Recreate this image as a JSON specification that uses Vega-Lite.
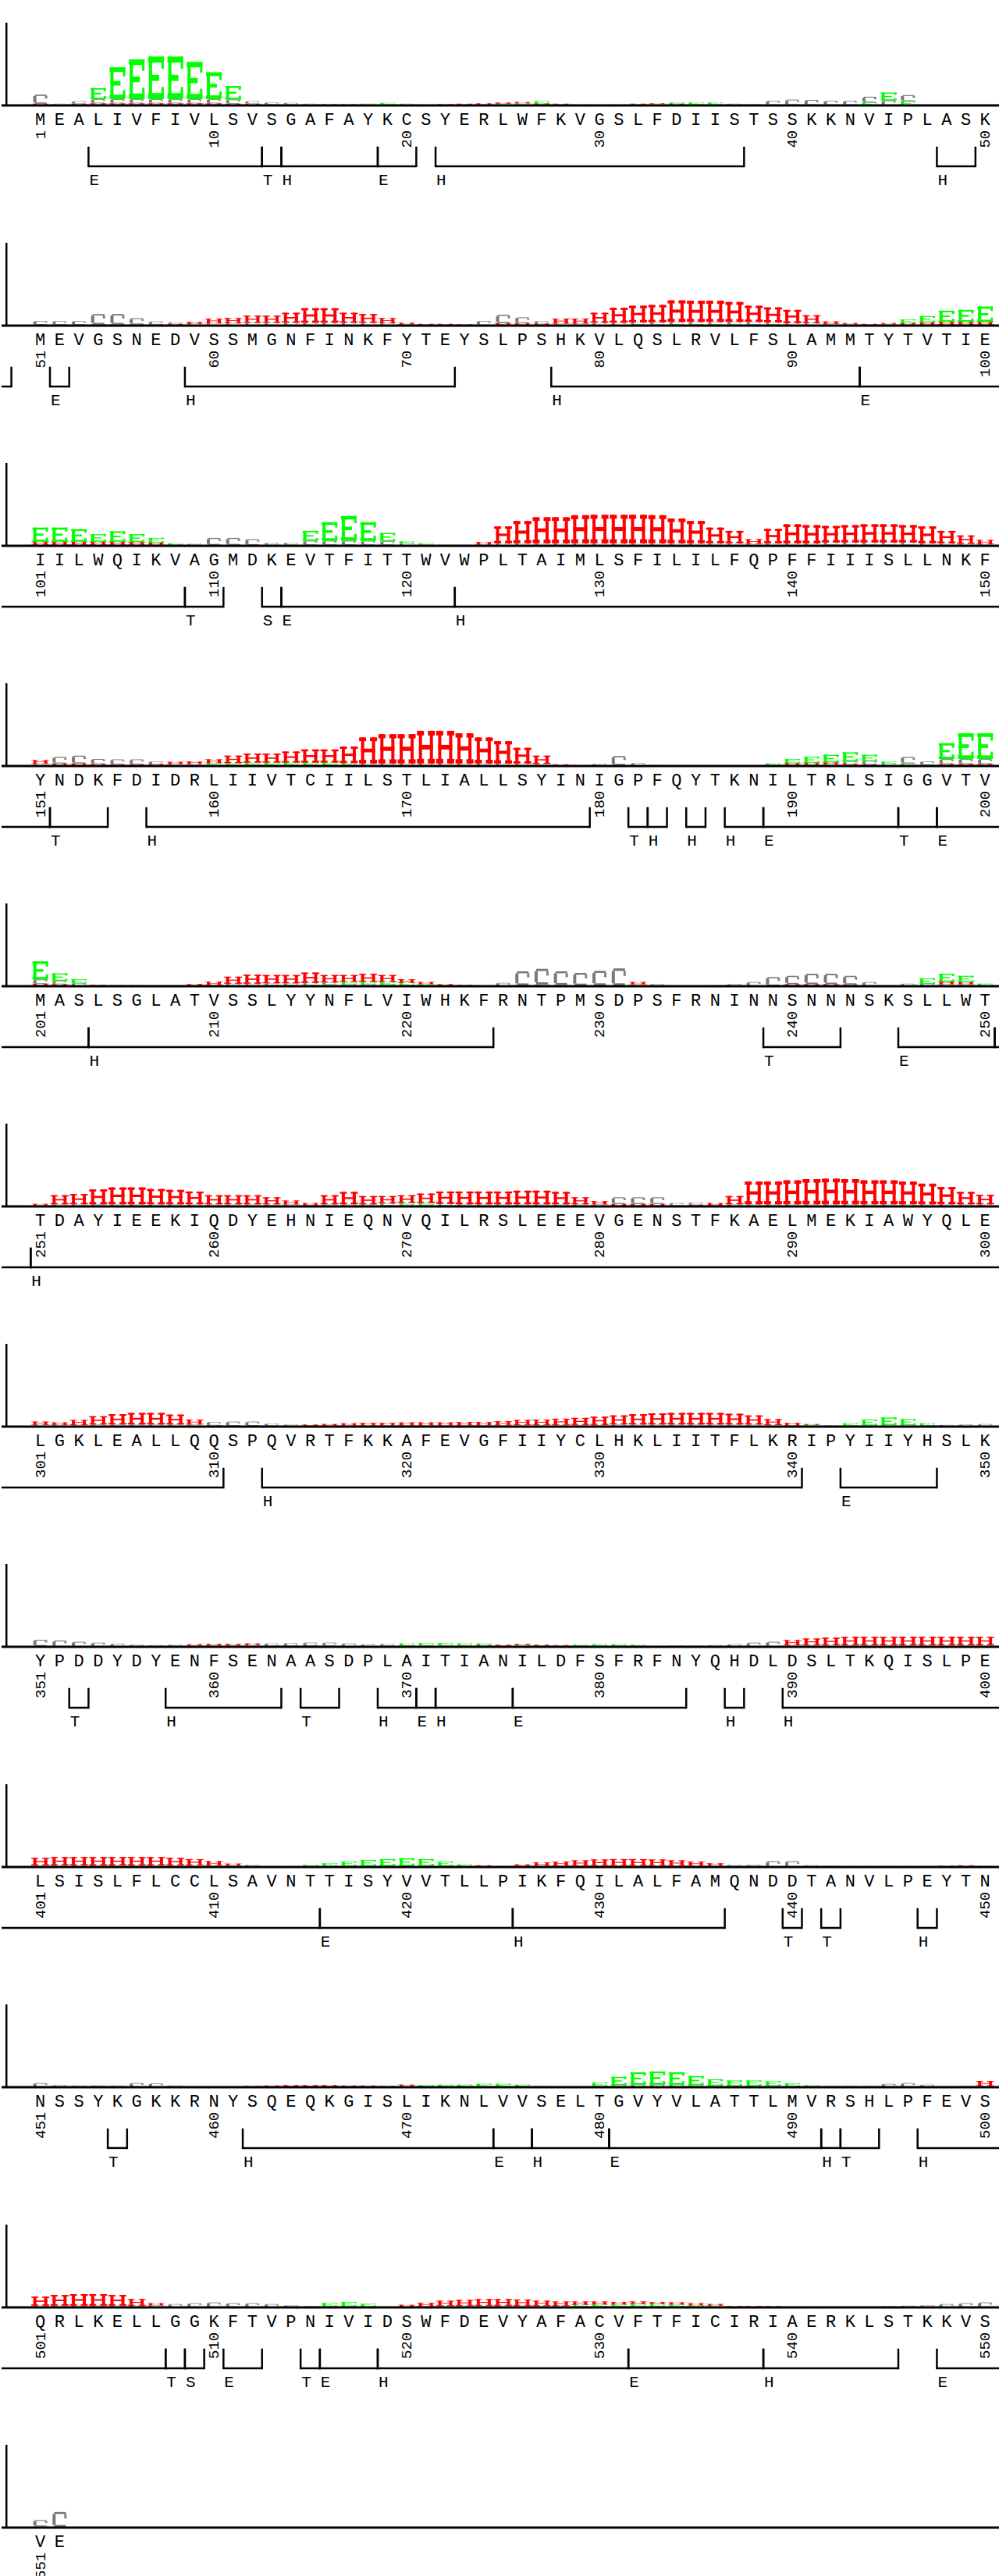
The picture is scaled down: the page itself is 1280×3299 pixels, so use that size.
{
"$schema":"https://vega.github.io/schema/vega-lite/v6.json",
"padding":0,"spacing":0,"background":"white",
"config":{"view":{"stroke":null},"font":"Liberation Mono","text":{"font":"Liberation Mono","color":"#000"},"axisY":{"domain":false,"grid":false,"tickSize":-7,"tickWidth":2.5,"tickColor":"#000","labelAlign":"left","labelBaseline":"alphabetic","labelPadding":-3,"labelFontSize":19,"labelFont":"Liberation Mono","labelColor":"#000"}},
"datasets":{
"res":[
{"p":1,"a":"M","H":0.03,"E":0.01,"C":0.22},{"p":2,"a":"E","H":0.01,"E":0.01,"C":0.02},{"p":3,"a":"A","H":0.02,"E":0.02,"C":0.06},{"p":4,"a":"L","H":0.05,"E":0.27,"C":0.1},{"p":5,"a":"I","H":0.05,"E":0.77,"C":0.1},{"p":6,"a":"V","H":0.05,"E":0.96,"C":0.1},{"p":7,"a":"F","H":0.05,"E":1.03,"C":0.1},{"p":8,"a":"I","H":0.05,"E":1.03,"C":0.1},{"p":9,"a":"V","H":0.05,"E":0.9,"C":0.1},{"p":10,"a":"L","H":0.05,"E":0.65,"C":0.1},
{"p":11,"a":"S","H":0.04,"E":0.33,"C":0.1},{"p":12,"a":"V","H":0.02,"E":0.02,"C":0.06},{"p":13,"a":"S","H":0.01,"E":0.01,"C":0.05},{"p":14,"a":"G","H":0.01,"E":0.01,"C":0.04},{"p":15,"a":"A","H":0.01,"E":0.01,"C":0.02},{"p":16,"a":"F","H":0.01,"E":0.01,"C":0.01},{"p":17,"a":"A","H":0.01,"E":0.01,"C":0.01},{"p":18,"a":"Y","H":0.01,"E":0.02,"C":0.01},{"p":19,"a":"K","H":0.01,"E":0.03,"C":0.02},{"p":20,"a":"C","H":0.01,"E":0.01,"C":0.02},
{"p":21,"a":"S","H":0.01,"E":0,"C":0.01},{"p":22,"a":"Y","H":0.02,"E":0,"C":0.01},{"p":23,"a":"E","H":0.02,"E":0.01,"C":0.01},{"p":24,"a":"R","H":0.03,"E":0.01,"C":0.01},{"p":25,"a":"L","H":0.03,"E":0.02,"C":0.02},{"p":26,"a":"W","H":0.03,"E":0.03,"C":0.02},{"p":27,"a":"F","H":0.03,"E":0.05,"C":0.02},{"p":28,"a":"K","H":0.02,"E":0.01,"C":0.01},{"p":29,"a":"V","H":0.01,"E":0,"C":0.01},{"p":30,"a":"G","H":0,"E":0,"C":0.02},
{"p":31,"a":"S","H":0.01,"E":0,"C":0.01},{"p":32,"a":"L","H":0.02,"E":0.01,"C":0.01},{"p":33,"a":"F","H":0.02,"E":0.02,"C":0.01},{"p":34,"a":"D","H":0.02,"E":0.03,"C":0.02},{"p":35,"a":"I","H":0.01,"E":0.04,"C":0.02},{"p":36,"a":"I","H":0.01,"E":0.04,"C":0.02},{"p":37,"a":"S","H":0.01,"E":0.01,"C":0.02},{"p":38,"a":"T","H":0,"E":0,"C":0.03},{"p":39,"a":"S","H":0,"E":0.01,"C":0.1},{"p":40,"a":"S","H":0,"E":0.01,"C":0.13},
{"p":41,"a":"K","H":0,"E":0.01,"C":0.12},{"p":42,"a":"K","H":0,"E":0.01,"C":0.1},{"p":43,"a":"N","H":0,"E":0.01,"C":0.1},{"p":44,"a":"V","H":0,"E":0.07,"C":0.14},{"p":45,"a":"I","H":0,"E":0.19,"C":0.12},{"p":46,"a":"P","H":0,"E":0.1,"C":0.15},{"p":47,"a":"L","H":0,"E":0,"C":0},{"p":48,"a":"A","H":0,"E":0,"C":0},{"p":49,"a":"S","H":0,"E":0,"C":0},{"p":50,"a":"K","H":0,"E":0,"C":0},
{"p":51,"a":"M","H":0.01,"E":0.01,"C":0.09},{"p":52,"a":"E","H":0.01,"E":0.01,"C":0.09},{"p":53,"a":"V","H":0.01,"E":0.01,"C":0.09},{"p":54,"a":"G","H":0.02,"E":0.01,"C":0.25},{"p":55,"a":"S","H":0.02,"E":0.01,"C":0.25},{"p":56,"a":"N","H":0.02,"E":0.01,"C":0.15},{"p":57,"a":"E","H":0.02,"E":0.01,"C":0.07},{"p":58,"a":"D","H":0.03,"E":0.01,"C":0.04},{"p":59,"a":"V","H":0.05,"E":0.01,"C":0.03},{"p":60,"a":"S","H":0.11,"E":0.01,"C":0.05},
{"p":61,"a":"S","H":0.12,"E":0.01,"C":0.05},{"p":62,"a":"M","H":0.17,"E":0.01,"C":0.06},{"p":63,"a":"G","H":0.17,"E":0.01,"C":0.06},{"p":64,"a":"N","H":0.24,"E":0.01,"C":0.06},{"p":65,"a":"F","H":0.35,"E":0.01,"C":0.06},{"p":66,"a":"I","H":0.35,"E":0.01,"C":0.06},{"p":67,"a":"N","H":0.24,"E":0.01,"C":0.06},{"p":68,"a":"K","H":0.21,"E":0.01,"C":0.06},{"p":69,"a":"F","H":0.12,"E":0.01,"C":0.05},{"p":70,"a":"Y","H":0.04,"E":0.01,"C":0.02},
{"p":71,"a":"T","H":0.03,"E":0,"C":0.01},{"p":72,"a":"E","H":0.03,"E":0,"C":0.01},{"p":73,"a":"Y","H":0.02,"E":0,"C":0.01},{"p":74,"a":"S","H":0.01,"E":0,"C":0.1},{"p":75,"a":"L","H":0.05,"E":0.01,"C":0.2},{"p":76,"a":"P","H":0.05,"E":0.01,"C":0.14},{"p":77,"a":"S","H":0.04,"E":0.01,"C":0.06},{"p":78,"a":"H","H":0.12,"E":0.01,"C":0.04},{"p":79,"a":"K","H":0.12,"E":0.01,"C":0.04},{"p":80,"a":"V","H":0.24,"E":0.01,"C":0.06},
{"p":81,"a":"L","H":0.36,"E":0.01,"C":0.06},{"p":82,"a":"Q","H":0.4,"E":0.02,"C":0.06},{"p":83,"a":"S","H":0.42,"E":0.02,"C":0.06},{"p":84,"a":"L","H":0.52,"E":0.03,"C":0.06},{"p":85,"a":"R","H":0.51,"E":0.03,"C":0.06},{"p":86,"a":"V","H":0.51,"E":0.03,"C":0.06},{"p":87,"a":"L","H":0.48,"E":0.03,"C":0.06},{"p":88,"a":"F","H":0.39,"E":0.03,"C":0.06},{"p":89,"a":"S","H":0.36,"E":0.02,"C":0.06},{"p":90,"a":"L","H":0.32,"E":0.01,"C":0.05},
{"p":91,"a":"A","H":0.19,"E":0.01,"C":0.05},{"p":92,"a":"M","H":0.06,"E":0.01,"C":0.03},{"p":93,"a":"M","H":0.03,"E":0.01,"C":0.02},{"p":94,"a":"T","H":0.02,"E":0.01,"C":0.01},{"p":95,"a":"Y","H":0.03,"E":0.02,"C":0.01},{"p":96,"a":"T","H":0.05,"E":0.09,"C":0.01},{"p":97,"a":"V","H":0.06,"E":0.15,"C":0.02},{"p":98,"a":"T","H":0.07,"E":0.27,"C":0.02},{"p":99,"a":"I","H":0.07,"E":0.29,"C":0.02},{"p":100,"a":"E","H":0.07,"E":0.37,"C":0.02},
{"p":101,"a":"I","H":0.08,"E":0.34,"C":0.02},{"p":102,"a":"I","H":0.08,"E":0.34,"C":0.02},{"p":103,"a":"L","H":0.08,"E":0.3,"C":0.02},{"p":104,"a":"W","H":0.08,"E":0.18,"C":0.02},{"p":105,"a":"Q","H":0.08,"E":0.25,"C":0.02},{"p":106,"a":"I","H":0.07,"E":0.19,"C":0.02},{"p":107,"a":"K","H":0.06,"E":0.11,"C":0.02},{"p":108,"a":"V","H":0.02,"E":0.03,"C":0.01},{"p":109,"a":"A","H":0.01,"E":0.01,"C":0.03},{"p":110,"a":"G","H":0.01,"E":0.01,"C":0.17},
{"p":111,"a":"M","H":0.01,"E":0.01,"C":0.17},{"p":112,"a":"D","H":0.01,"E":0.01,"C":0.14},{"p":113,"a":"K","H":0.01,"E":0.01,"C":0.05},{"p":114,"a":"E","H":0.01,"E":0.02,"C":0.04},{"p":115,"a":"V","H":0.02,"E":0.24,"C":0.1},{"p":116,"a":"T","H":0.02,"E":0.45,"C":0.1},{"p":117,"a":"F","H":0.02,"E":0.6,"C":0.1},{"p":118,"a":"I","H":0.02,"E":0.45,"C":0.1},{"p":119,"a":"T","H":0.02,"E":0.2,"C":0.09},{"p":120,"a":"T","H":0.01,"E":0.05,"C":0.05},
{"p":121,"a":"W","H":0.01,"E":0.03,"C":0.02},{"p":122,"a":"V","H":0.01,"E":0,"C":0.01},{"p":123,"a":"W","H":0.01,"E":0,"C":0.01},{"p":124,"a":"P","H":0.06,"E":0,"C":0.03},{"p":125,"a":"L","H":0.41,"E":0.01,"C":0.05},{"p":126,"a":"T","H":0.54,"E":0.01,"C":0.05},{"p":127,"a":"A","H":0.63,"E":0.01,"C":0.05},{"p":128,"a":"I","H":0.63,"E":0.01,"C":0.05},{"p":129,"a":"M","H":0.68,"E":0.01,"C":0.05},{"p":130,"a":"L","H":0.69,"E":0.01,"C":0.05},
{"p":131,"a":"S","H":0.69,"E":0.01,"C":0.05},{"p":132,"a":"F","H":0.69,"E":0.01,"C":0.05},{"p":133,"a":"I","H":0.68,"E":0.01,"C":0.05},{"p":134,"a":"L","H":0.6,"E":0.01,"C":0.05},{"p":135,"a":"I","H":0.54,"E":0.01,"C":0.05},{"p":136,"a":"L","H":0.38,"E":0.01,"C":0.05},{"p":137,"a":"F","H":0.3,"E":0.01,"C":0.05},{"p":138,"a":"Q","H":0.11,"E":0.01,"C":0.04},{"p":139,"a":"P","H":0.35,"E":0.01,"C":0.05},{"p":140,"a":"F","H":0.46,"E":0.01,"C":0.05},
{"p":141,"a":"F","H":0.44,"E":0.01,"C":0.05},{"p":142,"a":"I","H":0.4,"E":0.03,"C":0.05},{"p":143,"a":"I","H":0.42,"E":0.03,"C":0.05},{"p":144,"a":"I","H":0.44,"E":0.03,"C":0.05},{"p":145,"a":"S","H":0.44,"E":0.03,"C":0.05},{"p":146,"a":"L","H":0.42,"E":0.03,"C":0.05},{"p":147,"a":"L","H":0.41,"E":0.01,"C":0.05},{"p":148,"a":"N","H":0.3,"E":0.01,"C":0.05},{"p":149,"a":"K","H":0.2,"E":0.01,"C":0.04},{"p":150,"a":"F","H":0.1,"E":0.01,"C":0.03},
{"p":151,"a":"Y","H":0.08,"E":0.01,"C":0.05},{"p":152,"a":"N","H":0.05,"E":0.01,"C":0.16},{"p":153,"a":"D","H":0.05,"E":0.01,"C":0.19},{"p":154,"a":"K","H":0.04,"E":0.01,"C":0.12},{"p":155,"a":"F","H":0.03,"E":0.01,"C":0.12},{"p":156,"a":"D","H":0.03,"E":0.01,"C":0.12},{"p":157,"a":"I","H":0.04,"E":0.01,"C":0.06},{"p":158,"a":"D","H":0.05,"E":0.01,"C":0.04},{"p":159,"a":"R","H":0.06,"E":0.02,"C":0.03},{"p":160,"a":"L","H":0.09,"E":0.05,"C":0.02},
{"p":161,"a":"I","H":0.18,"E":0.05,"C":0.02},{"p":162,"a":"I","H":0.22,"E":0.06,"C":0.02},{"p":163,"a":"V","H":0.22,"E":0.06,"C":0.02},{"p":164,"a":"T","H":0.27,"E":0.06,"C":0.02},{"p":165,"a":"C","H":0.32,"E":0.06,"C":0.02},{"p":166,"a":"I","H":0.32,"E":0.06,"C":0.02},{"p":167,"a":"I","H":0.4,"E":0.04,"C":0.03},{"p":168,"a":"L","H":0.63,"E":0.01,"C":0.05},{"p":169,"a":"S","H":0.71,"E":0.01,"C":0.05},{"p":170,"a":"T","H":0.71,"E":0.01,"C":0.05},
{"p":171,"a":"L","H":0.79,"E":0.01,"C":0.05},{"p":172,"a":"I","H":0.79,"E":0.01,"C":0.05},{"p":173,"a":"A","H":0.73,"E":0.01,"C":0.05},{"p":174,"a":"L","H":0.63,"E":0.01,"C":0.05},{"p":175,"a":"L","H":0.54,"E":0.01,"C":0.05},{"p":176,"a":"S","H":0.38,"E":0.01,"C":0.05},{"p":177,"a":"Y","H":0.2,"E":0.01,"C":0.04},{"p":178,"a":"I","H":0.03,"E":0,"C":0.01},{"p":179,"a":"N","H":0.01,"E":0,"C":0.01},{"p":180,"a":"I","H":0.01,"E":0,"C":0.04},
{"p":181,"a":"G","H":0.01,"E":0.01,"C":0.22},{"p":182,"a":"P","H":0.01,"E":0,"C":0.06},{"p":183,"a":"F","H":0.01,"E":0,"C":0.01},{"p":184,"a":"Q","H":0,"E":0,"C":0.01},{"p":185,"a":"Y","H":0,"E":0,"C":0.01},{"p":186,"a":"T","H":0,"E":0,"C":0.01},{"p":187,"a":"K","H":0,"E":0,"C":0.01},{"p":188,"a":"N","H":0,"E":0.01,"C":0.01},{"p":189,"a":"I","H":0.01,"E":0.04,"C":0.01},{"p":190,"a":"L","H":0.05,"E":0.1,"C":0.02},
{"p":191,"a":"T","H":0.05,"E":0.14,"C":0.03},{"p":192,"a":"R","H":0.05,"E":0.18,"C":0.04},{"p":193,"a":"L","H":0.05,"E":0.22,"C":0.06},{"p":194,"a":"S","H":0.04,"E":0.15,"C":0.08},{"p":195,"a":"I","H":0.01,"E":0.05,"C":0.05},{"p":196,"a":"G","H":0.01,"E":0.05,"C":0.16},{"p":197,"a":"G","H":0.01,"E":0.02,"C":0.08},{"p":198,"a":"V","H":0.05,"E":0.38,"C":0.12},{"p":199,"a":"T","H":0.05,"E":0.62,"C":0.12},{"p":200,"a":"V","H":0.05,"E":0.62,"C":0.12},
{"p":201,"a":"M","H":0.06,"E":0.44,"C":0.1},{"p":202,"a":"A","H":0.05,"E":0.18,"C":0.08},{"p":203,"a":"S","H":0.01,"E":0.1,"C":0.06},{"p":204,"a":"L","H":0.01,"E":0.01,"C":0.01},{"p":205,"a":"S","H":0,"E":0,"C":0.03},{"p":206,"a":"G","H":0,"E":0,"C":0.03},{"p":207,"a":"L","H":0.01,"E":0,"C":0.01},{"p":208,"a":"A","H":0.01,"E":0,"C":0.01},{"p":209,"a":"T","H":0.04,"E":0,"C":0.01},{"p":210,"a":"V","H":0.08,"E":0,"C":0.03},
{"p":211,"a":"S","H":0.17,"E":0.01,"C":0.05},{"p":212,"a":"S","H":0.22,"E":0.01,"C":0.05},{"p":213,"a":"L","H":0.2,"E":0.02,"C":0.05},{"p":214,"a":"Y","H":0.2,"E":0.02,"C":0.05},{"p":215,"a":"Y","H":0.25,"E":0.03,"C":0.05},{"p":216,"a":"N","H":0.18,"E":0.04,"C":0.05},{"p":217,"a":"F","H":0.17,"E":0.05,"C":0.05},{"p":218,"a":"L","H":0.2,"E":0.05,"C":0.05},{"p":219,"a":"V","H":0.17,"E":0.06,"C":0.04},{"p":220,"a":"I","H":0.09,"E":0.05,"C":0.03},
{"p":221,"a":"W","H":0.05,"E":0.03,"C":0.02},{"p":222,"a":"H","H":0.03,"E":0.01,"C":0.01},{"p":223,"a":"K","H":0.02,"E":0.01,"C":0},{"p":224,"a":"F","H":0.01,"E":0,"C":0},{"p":225,"a":"R","H":0,"E":0,"C":0.08},{"p":226,"a":"N","H":0,"E":0.02,"C":0.34},{"p":227,"a":"T","H":0,"E":0.04,"C":0.38},{"p":228,"a":"P","H":0,"E":0.03,"C":0.33},{"p":229,"a":"M","H":0,"E":0.02,"C":0.3},{"p":230,"a":"S","H":0,"E":0.02,"C":0.35},
{"p":231,"a":"D","H":0,"E":0.01,"C":0.42},{"p":232,"a":"P","H":0.05,"E":0,"C":0.05},{"p":233,"a":"S","H":0,"E":0,"C":0.05},{"p":234,"a":"F","H":0,"E":0,"C":0.01},{"p":235,"a":"R","H":0,"E":0,"C":0.01},{"p":236,"a":"N","H":0,"E":0,"C":0.02},{"p":237,"a":"I","H":0,"E":0,"C":0.05},{"p":238,"a":"N","H":0,"E":0,"C":0.1},{"p":239,"a":"N","H":0.01,"E":0,"C":0.21},{"p":240,"a":"S","H":0.05,"E":0,"C":0.2},
{"p":241,"a":"N","H":0.05,"E":0,"C":0.25},{"p":242,"a":"N","H":0.05,"E":0,"C":0.25},{"p":243,"a":"N","H":0.04,"E":0,"C":0.21},{"p":244,"a":"S","H":0.01,"E":0,"C":0.09},{"p":245,"a":"K","H":0,"E":0,"C":0.02},{"p":246,"a":"S","H":0,"E":0.01,"C":0.05},{"p":247,"a":"L","H":0,"E":0.13,"C":0.06},{"p":248,"a":"L","H":0.06,"E":0.19,"C":0.05},{"p":249,"a":"W","H":0.05,"E":0.15,"C":0.05},{"p":250,"a":"T","H":0.01,"E":0.04,"C":0.01},
{"p":251,"a":"T","H":0.03,"E":0.01,"C":0.02},{"p":252,"a":"D","H":0.22,"E":0.01,"C":0.04},{"p":253,"a":"A","H":0.25,"E":0.01,"C":0.04},{"p":254,"a":"Y","H":0.36,"E":0.01,"C":0.04},{"p":255,"a":"I","H":0.41,"E":0.01,"C":0.04},{"p":256,"a":"E","H":0.41,"E":0.01,"C":0.04},{"p":257,"a":"E","H":0.37,"E":0.01,"C":0.04},{"p":258,"a":"K","H":0.35,"E":0.01,"C":0.04},{"p":259,"a":"I","H":0.31,"E":0.01,"C":0.04},{"p":260,"a":"Q","H":0.22,"E":0.01,"C":0.04},
{"p":261,"a":"D","H":0.22,"E":0.01,"C":0.04},{"p":262,"a":"Y","H":0.22,"E":0.01,"C":0.04},{"p":263,"a":"E","H":0.17,"E":0.01,"C":0.04},{"p":264,"a":"H","H":0.09,"E":0.01,"C":0.04},{"p":265,"a":"N","H":0.05,"E":0,"C":0.03},{"p":266,"a":"I","H":0.22,"E":0.01,"C":0.04},{"p":267,"a":"E","H":0.3,"E":0.01,"C":0.04},{"p":268,"a":"Q","H":0.2,"E":0.01,"C":0.04},{"p":269,"a":"N","H":0.18,"E":0.03,"C":0.04},{"p":270,"a":"V","H":0.19,"E":0.04,"C":0.04},
{"p":271,"a":"Q","H":0.23,"E":0.04,"C":0.04},{"p":272,"a":"I","H":0.3,"E":0.02,"C":0.04},{"p":273,"a":"L","H":0.31,"E":0.01,"C":0.04},{"p":274,"a":"R","H":0.31,"E":0.01,"C":0.04},{"p":275,"a":"S","H":0.31,"E":0.01,"C":0.04},{"p":276,"a":"L","H":0.33,"E":0.01,"C":0.04},{"p":277,"a":"E","H":0.33,"E":0.01,"C":0.04},{"p":278,"a":"E","H":0.3,"E":0.01,"C":0.04},{"p":279,"a":"E","H":0.17,"E":0.01,"C":0.04},{"p":280,"a":"V","H":0.08,"E":0,"C":0.05},
{"p":281,"a":"G","H":0.06,"E":0,"C":0.16},{"p":282,"a":"E","H":0.06,"E":0,"C":0.16},{"p":283,"a":"N","H":0.06,"E":0,"C":0.16},{"p":284,"a":"S","H":0.02,"E":0,"C":0.06},{"p":285,"a":"T","H":0.04,"E":0,"C":0.05},{"p":286,"a":"F","H":0.06,"E":0,"C":0.02},{"p":287,"a":"K","H":0.2,"E":0,"C":0.05},{"p":288,"a":"A","H":0.55,"E":0.01,"C":0.04},{"p":289,"a":"E","H":0.55,"E":0.01,"C":0.04},{"p":290,"a":"L","H":0.58,"E":0.01,"C":0.04},
{"p":291,"a":"M","H":0.61,"E":0.01,"C":0.04},{"p":292,"a":"E","H":0.62,"E":0.01,"C":0.04},{"p":293,"a":"K","H":0.61,"E":0.01,"C":0.04},{"p":294,"a":"I","H":0.58,"E":0.01,"C":0.04},{"p":295,"a":"A","H":0.58,"E":0.01,"C":0.04},{"p":296,"a":"W","H":0.55,"E":0.01,"C":0.04},{"p":297,"a":"Y","H":0.5,"E":0.01,"C":0.04},{"p":298,"a":"Q","H":0.42,"E":0.01,"C":0.04},{"p":299,"a":"L","H":0.3,"E":0.01,"C":0.04},{"p":300,"a":"E","H":0.23,"E":0.01,"C":0.04},
{"p":301,"a":"L","H":0.08,"E":0.01,"C":0.03},{"p":302,"a":"G","H":0.06,"E":0.01,"C":0.03},{"p":303,"a":"K","H":0.12,"E":0,"C":0.04},{"p":304,"a":"L","H":0.2,"E":0,"C":0.05},{"p":305,"a":"E","H":0.25,"E":0,"C":0.05},{"p":306,"a":"A","H":0.28,"E":0,"C":0.05},{"p":307,"a":"L","H":0.28,"E":0,"C":0.05},{"p":308,"a":"L","H":0.24,"E":0,"C":0.05},{"p":309,"a":"Q","H":0.12,"E":0,"C":0.05},{"p":310,"a":"Q","H":0.03,"E":0,"C":0.08},
{"p":311,"a":"S","H":0.02,"E":0,"C":0.1},{"p":312,"a":"P","H":0.02,"E":0,"C":0.1},{"p":313,"a":"Q","H":0.02,"E":0,"C":0.05},{"p":314,"a":"V","H":0.02,"E":0,"C":0.03},{"p":315,"a":"R","H":0.03,"E":0,"C":0.02},{"p":316,"a":"T","H":0.04,"E":0,"C":0.02},{"p":317,"a":"F","H":0.05,"E":0,"C":0.03},{"p":318,"a":"K","H":0.06,"E":0,"C":0.03},{"p":319,"a":"K","H":0.06,"E":0,"C":0.03},{"p":320,"a":"A","H":0.07,"E":0,"C":0.03},
{"p":321,"a":"F","H":0.07,"E":0,"C":0.03},{"p":322,"a":"E","H":0.07,"E":0,"C":0.03},{"p":323,"a":"V","H":0.08,"E":0,"C":0.03},{"p":324,"a":"G","H":0.08,"E":0,"C":0.03},{"p":325,"a":"F","H":0.1,"E":0,"C":0.03},{"p":326,"a":"I","H":0.12,"E":0,"C":0.04},{"p":327,"a":"I","H":0.13,"E":0,"C":0.04},{"p":328,"a":"Y","H":0.15,"E":0,"C":0.04},{"p":329,"a":"C","H":0.17,"E":0,"C":0.04},{"p":330,"a":"L","H":0.2,"E":0,"C":0.04},
{"p":331,"a":"H","H":0.22,"E":0,"C":0.05},{"p":332,"a":"K","H":0.25,"E":0,"C":0.05},{"p":333,"a":"L","H":0.27,"E":0,"C":0.05},{"p":334,"a":"I","H":0.28,"E":0,"C":0.05},{"p":335,"a":"I","H":0.28,"E":0,"C":0.05},{"p":336,"a":"T","H":0.28,"E":0,"C":0.05},{"p":337,"a":"F","H":0.26,"E":0,"C":0.05},{"p":338,"a":"L","H":0.22,"E":0,"C":0.05},{"p":339,"a":"K","H":0.14,"E":0,"C":0.04},{"p":340,"a":"R","H":0.06,"E":0,"C":0.03},
{"p":341,"a":"I","H":0.02,"E":0.02,"C":0.02},{"p":342,"a":"P","H":0,"E":0,"C":0.03},{"p":343,"a":"Y","H":0,"E":0.06,"C":0.02},{"p":344,"a":"I","H":0,"E":0.14,"C":0.03},{"p":345,"a":"I","H":0,"E":0.18,"C":0.04},{"p":346,"a":"Y","H":0,"E":0.14,"C":0.04},{"p":347,"a":"H","H":0,"E":0.05,"C":0.03},{"p":348,"a":"S","H":0,"E":0,"C":0.04},{"p":349,"a":"L","H":0,"E":0,"C":0.05},{"p":350,"a":"K","H":0,"E":0,"C":0.06},
{"p":351,"a":"Y","H":0.02,"E":0,"C":0.15},{"p":352,"a":"P","H":0,"E":0,"C":0.15},{"p":353,"a":"D","H":0,"E":0,"C":0.12},{"p":354,"a":"D","H":0,"E":0,"C":0.1},{"p":355,"a":"Y","H":0,"E":0,"C":0.07},{"p":356,"a":"D","H":0,"E":0,"C":0.05},{"p":357,"a":"Y","H":0,"E":0,"C":0.04},{"p":358,"a":"E","H":0.02,"E":0,"C":0.03},{"p":359,"a":"N","H":0.03,"E":0,"C":0.03},{"p":360,"a":"F","H":0.04,"E":0,"C":0.03},
{"p":361,"a":"S","H":0.04,"E":0,"C":0.03},{"p":362,"a":"E","H":0.04,"E":0,"C":0.04},{"p":363,"a":"N","H":0.03,"E":0,"C":0.05},{"p":364,"a":"A","H":0.03,"E":0,"C":0.06},{"p":365,"a":"A","H":0.03,"E":0,"C":0.07},{"p":366,"a":"S","H":0.02,"E":0,"C":0.08},{"p":367,"a":"D","H":0,"E":0,"C":0.08},{"p":368,"a":"P","H":0,"E":0,"C":0.06},{"p":369,"a":"L","H":0,"E":0.03,"C":0.04},{"p":370,"a":"A","H":0,"E":0.05,"C":0.03},
{"p":371,"a":"I","H":0,"E":0.06,"C":0.03},{"p":372,"a":"T","H":0,"E":0.06,"C":0.03},{"p":373,"a":"I","H":0,"E":0.05,"C":0.03},{"p":374,"a":"A","H":0.02,"E":0.04,"C":0.02},{"p":375,"a":"N","H":0.03,"E":0,"C":0.02},{"p":376,"a":"I","H":0.03,"E":0.02,"C":0.02},{"p":377,"a":"L","H":0.03,"E":0,"C":0.02},{"p":378,"a":"D","H":0.02,"E":0,"C":0.02},{"p":379,"a":"F","H":0,"E":0.03,"C":0.02},{"p":380,"a":"S","H":0,"E":0.04,"C":0.02},
{"p":381,"a":"F","H":0,"E":0.04,"C":0.02},{"p":382,"a":"R","H":0,"E":0.03,"C":0.02},{"p":383,"a":"F","H":0,"E":0,"C":0.02},{"p":384,"a":"N","H":0,"E":0,"C":0.03},{"p":385,"a":"Y","H":0,"E":0,"C":0.03},{"p":386,"a":"Q","H":0,"E":0,"C":0.04},{"p":387,"a":"H","H":0,"E":0,"C":0.06},{"p":388,"a":"D","H":0,"E":0,"C":0.1},{"p":389,"a":"L","H":0,"E":0,"C":0.12},{"p":390,"a":"D","H":0.12,"E":0,"C":0.04},
{"p":391,"a":"S","H":0.16,"E":0,"C":0.04},{"p":392,"a":"L","H":0.18,"E":0,"C":0.04},{"p":393,"a":"T","H":0.2,"E":0,"C":0.04},{"p":394,"a":"K","H":0.2,"E":0,"C":0.04},{"p":395,"a":"Q","H":0.2,"E":0,"C":0.04},{"p":396,"a":"I","H":0.2,"E":0,"C":0.04},{"p":397,"a":"S","H":0.2,"E":0,"C":0.04},{"p":398,"a":"L","H":0.2,"E":0,"C":0.04},{"p":399,"a":"P","H":0.2,"E":0,"C":0.04},{"p":400,"a":"E","H":0.2,"E":0,"C":0.04},
{"p":401,"a":"L","H":0.18,"E":0,"C":0.04},{"p":402,"a":"S","H":0.2,"E":0,"C":0.04},{"p":403,"a":"I","H":0.2,"E":0,"C":0.04},{"p":404,"a":"S","H":0.2,"E":0,"C":0.04},{"p":405,"a":"L","H":0.2,"E":0,"C":0.04},{"p":406,"a":"F","H":0.2,"E":0,"C":0.04},{"p":407,"a":"L","H":0.2,"E":0,"C":0.04},{"p":408,"a":"C","H":0.18,"E":0,"C":0.04},{"p":409,"a":"C","H":0.15,"E":0,"C":0.04},{"p":410,"a":"L","H":0.1,"E":0,"C":0.04},
{"p":411,"a":"S","H":0.05,"E":0,"C":0.03},{"p":412,"a":"A","H":0.02,"E":0,"C":0.03},{"p":413,"a":"V","H":0,"E":0,"C":0.02},{"p":414,"a":"N","H":0,"E":0,"C":0.02},{"p":415,"a":"T","H":0,"E":0.03,"C":0.02},{"p":416,"a":"T","H":0,"E":0.06,"C":0.03},{"p":417,"a":"I","H":0,"E":0.1,"C":0.03},{"p":418,"a":"S","H":0,"E":0.14,"C":0.03},{"p":419,"a":"Y","H":0,"E":0.16,"C":0.03},{"p":420,"a":"V","H":0,"E":0.18,"C":0.03},
{"p":421,"a":"V","H":0,"E":0.16,"C":0.03},{"p":422,"a":"T","H":0,"E":0.1,"C":0.03},{"p":423,"a":"L","H":0,"E":0.04,"C":0.02},{"p":424,"a":"L","H":0.02,"E":0,"C":0.02},{"p":425,"a":"P","H":0,"E":0,"C":0.03},{"p":426,"a":"I","H":0.04,"E":0,"C":0.02},{"p":427,"a":"K","H":0.08,"E":0,"C":0.03},{"p":428,"a":"F","H":0.1,"E":0,"C":0.03},{"p":429,"a":"Q","H":0.13,"E":0,"C":0.03},{"p":430,"a":"I","H":0.15,"E":0,"C":0.03},
{"p":431,"a":"L","H":0.16,"E":0,"C":0.03},{"p":432,"a":"A","H":0.16,"E":0,"C":0.03},{"p":433,"a":"L","H":0.15,"E":0,"C":0.03},{"p":434,"a":"F","H":0.13,"E":0,"C":0.03},{"p":435,"a":"A","H":0.1,"E":0,"C":0.03},{"p":436,"a":"M","H":0.06,"E":0,"C":0.03},{"p":437,"a":"Q","H":0.02,"E":0,"C":0.03},{"p":438,"a":"N","H":0,"E":0,"C":0.05},{"p":439,"a":"D","H":0,"E":0,"C":0.14},{"p":440,"a":"D","H":0,"E":0,"C":0.14},
{"p":441,"a":"T","H":0,"E":0,"C":0.04},{"p":442,"a":"A","H":0,"E":0,"C":0.03},{"p":443,"a":"N","H":0,"E":0,"C":0.02},{"p":444,"a":"V","H":0,"E":0,"C":0.02},{"p":445,"a":"L","H":0,"E":0,"C":0.02},{"p":446,"a":"P","H":0,"E":0,"C":0.02},{"p":447,"a":"E","H":0.02,"E":0,"C":0},{"p":448,"a":"Y","H":0.03,"E":0,"C":0},{"p":449,"a":"T","H":0.02,"E":0,"C":0.02},{"p":450,"a":"N","H":0,"E":0,"C":0.03},
{"p":451,"a":"N","H":0,"E":0,"C":0.1},{"p":452,"a":"S","H":0,"E":0,"C":0.05},{"p":453,"a":"S","H":0,"E":0,"C":0.04},{"p":454,"a":"Y","H":0,"E":0,"C":0.04},{"p":455,"a":"K","H":0,"E":0,"C":0.04},{"p":456,"a":"G","H":0,"E":0,"C":0.1},{"p":457,"a":"K","H":0,"E":0,"C":0.09},{"p":458,"a":"K","H":0,"E":0,"C":0.04},{"p":459,"a":"R","H":0,"E":0,"C":0.02},{"p":460,"a":"N","H":0,"E":0,"C":0.02},
{"p":461,"a":"Y","H":0.02,"E":0,"C":0},{"p":462,"a":"S","H":0.03,"E":0,"C":0},{"p":463,"a":"Q","H":0.04,"E":0,"C":0},{"p":464,"a":"E","H":0.05,"E":0,"C":0},{"p":465,"a":"Q","H":0.05,"E":0,"C":0},{"p":466,"a":"K","H":0.05,"E":0,"C":0},{"p":467,"a":"G","H":0.04,"E":0,"C":0},{"p":468,"a":"I","H":0.04,"E":0,"C":0},{"p":469,"a":"S","H":0.03,"E":0,"C":0},{"p":470,"a":"L","H":0.03,"E":0.03,"C":0},
{"p":471,"a":"I","H":0,"E":0.05,"C":0},{"p":472,"a":"K","H":0,"E":0.06,"C":0},{"p":473,"a":"N","H":0,"E":0.06,"C":0},{"p":474,"a":"L","H":0,"E":0.08,"C":0},{"p":475,"a":"V","H":0,"E":0.08,"C":0},{"p":476,"a":"V","H":0,"E":0.06,"C":0},{"p":477,"a":"S","H":0,"E":0.03,"C":0},{"p":478,"a":"E","H":0,"E":0,"C":0.02},{"p":479,"a":"L","H":0,"E":0.02,"C":0},{"p":480,"a":"T","H":0,"E":0.08,"C":0.03},
{"p":481,"a":"G","H":0,"E":0.2,"C":0.05},{"p":482,"a":"V","H":0,"E":0.3,"C":0.06},{"p":483,"a":"Y","H":0,"E":0.32,"C":0.06},{"p":484,"a":"V","H":0,"E":0.3,"C":0.06},{"p":485,"a":"L","H":0,"E":0.22,"C":0.05},{"p":486,"a":"A","H":0,"E":0.15,"C":0.04},{"p":487,"a":"T","H":0,"E":0.12,"C":0.04},{"p":488,"a":"T","H":0,"E":0.12,"C":0.04},{"p":489,"a":"L","H":0,"E":0.1,"C":0.04},{"p":490,"a":"M","H":0,"E":0.06,"C":0.03},
{"p":491,"a":"V","H":0,"E":0.03,"C":0.02},{"p":492,"a":"R","H":0,"E":0,"C":0.03},{"p":493,"a":"S","H":0,"E":0,"C":0.03},{"p":494,"a":"H","H":0,"E":0,"C":0.03},{"p":495,"a":"L","H":0,"E":0,"C":0.08},{"p":496,"a":"P","H":0,"E":0,"C":0.1},{"p":497,"a":"F","H":0,"E":0,"C":0.06},{"p":498,"a":"E","H":0,"E":0,"C":0.02},{"p":499,"a":"V","H":0,"E":0,"C":0.03},{"p":500,"a":"S","H":0.12,"E":0,"C":0.03},
{"p":501,"a":"Q","H":0.22,"E":0,"C":0.04},{"p":502,"a":"R","H":0.26,"E":0,"C":0.04},{"p":503,"a":"L","H":0.28,"E":0,"C":0.04},{"p":504,"a":"K","H":0.28,"E":0,"C":0.04},{"p":505,"a":"E","H":0.26,"E":0,"C":0.04},{"p":506,"a":"L","H":0.16,"E":0,"C":0.04},{"p":507,"a":"L","H":0.05,"E":0,"C":0.05},{"p":508,"a":"G","H":0,"E":0,"C":0.08},{"p":509,"a":"G","H":0,"E":0,"C":0.1},{"p":510,"a":"K","H":0,"E":0,"C":0.12},
{"p":511,"a":"F","H":0,"E":0,"C":0.1},{"p":512,"a":"T","H":0,"E":0,"C":0.1},{"p":513,"a":"V","H":0,"E":0,"C":0.08},{"p":514,"a":"P","H":0,"E":0,"C":0.05},{"p":515,"a":"N","H":0,"E":0,"C":0.03},{"p":516,"a":"I","H":0,"E":0.08,"C":0.03},{"p":517,"a":"V","H":0,"E":0.1,"C":0.03},{"p":518,"a":"I","H":0,"E":0.06,"C":0.03},{"p":519,"a":"D","H":0,"E":0,"C":0.02},{"p":520,"a":"S","H":0.04,"E":0,"C":0.02},
{"p":521,"a":"W","H":0.08,"E":0,"C":0.03},{"p":522,"a":"F","H":0.12,"E":0,"C":0.04},{"p":523,"a":"D","H":0.14,"E":0,"C":0.04},{"p":524,"a":"E","H":0.16,"E":0,"C":0.04},{"p":525,"a":"V","H":0.16,"E":0,"C":0.04},{"p":526,"a":"Y","H":0.15,"E":0,"C":0.04},{"p":527,"a":"A","H":0.12,"E":0,"C":0.04},{"p":528,"a":"F","H":0.1,"E":0,"C":0.04},{"p":529,"a":"A","H":0.08,"E":0.03,"C":0.03},{"p":530,"a":"C","H":0.07,"E":0.04,"C":0.03},
{"p":531,"a":"V","H":0.06,"E":0.04,"C":0.03},{"p":532,"a":"F","H":0.06,"E":0.05,"C":0.03},{"p":533,"a":"T","H":0.05,"E":0.05,"C":0.03},{"p":534,"a":"F","H":0.05,"E":0.04,"C":0.03},{"p":535,"a":"I","H":0.05,"E":0.03,"C":0.02},{"p":536,"a":"C","H":0.04,"E":0.02,"C":0.02},{"p":537,"a":"I","H":0.03,"E":0,"C":0},{"p":538,"a":"R","H":0.03,"E":0,"C":0},{"p":539,"a":"I","H":0.03,"E":0,"C":0},{"p":540,"a":"A","H":0.02,"E":0,"C":0},
{"p":541,"a":"E","H":0.02,"E":0,"C":0},{"p":542,"a":"R","H":0,"E":0,"C":0.02},{"p":543,"a":"K","H":0,"E":0,"C":0.02},{"p":544,"a":"L","H":0,"E":0,"C":0.02},{"p":545,"a":"S","H":0,"E":0,"C":0.03},{"p":546,"a":"T","H":0,"E":0,"C":0.04},{"p":547,"a":"K","H":0,"E":0,"C":0.05},{"p":548,"a":"K","H":0,"E":0,"C":0.08},{"p":549,"a":"V","H":0,"E":0,"C":0.1},{"p":550,"a":"S","H":0,"E":0,"C":0.12},
{"p":551,"a":"V","H":0.01,"E":0.02,"C":0.15},{"p":552,"a":"E","H":0.01,"E":0,"C":0.37}
],
"seg":[
{"s":3.5,"e":12.5,"t":"E"},{"s":12.5,"e":13.5,"t":"T"},{"s":13.5,"e":18.5,"t":"H"},{"s":18.5,"e":20.5,"t":"E"},{"s":21.5,"e":37.5,"t":"H"},{"s":47.5,"e":49.5,"t":"H"},
{"s":51.5,"e":52.5,"t":"E"},{"s":58.5,"e":72.5,"t":"H"},{"s":77.5,"e":93.5,"t":"H"},{"s":93.5,"e":108.5,"t":"E"},
{"s":108.5,"e":110.5,"t":"T"},{"s":112.5,"e":113.5,"t":"S"},{"s":113.5,"e":122.5,"t":"E"},{"s":122.5,"e":151.5,"t":"H"},
{"s":151.5,"e":154.5,"t":"T"},{"s":156.5,"e":179.5,"t":"H"},{"s":181.5,"e":182.5,"t":"T"},{"s":182.5,"e":183.5,"t":"H"},{"s":184.5,"e":185.5,"t":"H"},{"s":186.5,"e":188.5,"t":"H"},{"s":188.5,"e":195.5,"t":"E"},{"s":195.5,"e":197.5,"t":"T"},{"s":197.5,"e":203.5,"t":"E"},
{"s":203.5,"e":224.5,"t":"H"},{"s":238.5,"e":242.5,"t":"T"},{"s":245.5,"e":250.5,"t":"E"},
{"s":250.5,"e":310.5,"t":"H"},{"s":312.5,"e":340.5,"t":"H"},{"s":342.5,"e":347.5,"t":"E"},
{"s":352.5,"e":353.5,"t":"T"},{"s":357.5,"e":363.5,"t":"H"},{"s":364.5,"e":366.5,"t":"T"},{"s":368.5,"e":370.5,"t":"H"},{"s":370.5,"e":371.5,"t":"E"},{"s":371.5,"e":375.5,"t":"H"},{"s":375.5,"e":384.5,"t":"E"},{"s":386.5,"e":387.5,"t":"H"},{"s":389.5,"e":415.5,"t":"H"},
{"s":415.5,"e":425.5,"t":"E"},{"s":425.5,"e":436.5,"t":"H"},{"s":439.5,"e":440.5,"t":"T"},{"s":441.5,"e":442.5,"t":"T"},{"s":446.5,"e":447.5,"t":"H"},
{"s":454.5,"e":455.5,"t":"T"},{"s":461.5,"e":474.5,"t":"H"},{"s":474.5,"e":476.5,"t":"E"},{"s":476.5,"e":480.5,"t":"H"},{"s":480.5,"e":491.5,"t":"E"},{"s":491.5,"e":492.5,"t":"H"},{"s":492.5,"e":494.5,"t":"T"},{"s":496.5,"e":507.5,"t":"H"},
{"s":507.5,"e":508.5,"t":"T"},{"s":508.5,"e":509.5,"t":"S"},{"s":510.5,"e":512.5,"t":"E"},{"s":514.5,"e":515.5,"t":"T"},{"s":515.5,"e":518.5,"t":"E"},{"s":518.5,"e":531.5,"t":"H"},{"s":531.5,"e":538.5,"t":"E"},{"s":538.5,"e":545.5,"t":"H"},{"s":547.5,"e":552.5,"t":"E"}
]
},
"vconcat":[
{"width":1280,"height":281.2,"layer":[
{"data":{"name":"res"},"transform":[{"filter":{"field":"p","range":[1,50]}},{"fold":["H","E","C","H","E","C","H","E","C","H","E","C","H","E","C","H","E","C","H","E","C"],"as":["k","v"]},{"window":[{"op":"row_number","as":"i"}],"groupby":["p","k"]},{"stack":"v","groupby":["p"],"sort":[{"field":"v","order":"ascending"},{"field":"k","order":"ascending"},{"field":"i","order":"ascending"}],"as":["y0","y1"]}],"encoding":{"x":{"field":"p","type":"quantitative","scale":{"domain":[-0.807,50.6],"nice":false,"zero":false},"axis":null},"y":{"field":"y0","type":"quantitative","scale":{"domain":[-19.313,17.829],"nice":false,"zero":false},"axis":null},"y2":{"field":"y1"}},"layer":[
{"transform":[{"filter":"datum.k != 'C' || (datum.i > 1 && datum.i < 7)"},{"aggregate":[{"op":"min","field":"y0","as":"b"},{"op":"max","field":"y1","as":"t"}],"groupby":["p","k"]}],"mark":{"type":"bar","width":4,"xOffset":-7},"encoding":{"y":{"field":"b","type":"quantitative","scale":{"domain":[-19.313,17.829],"nice":false,"zero":false},"axis":null},"y2":{"field":"t"},"color":{"field":"k","type":"nominal","scale":{"domain":["H","E","C"],"range":["#ff0000","#00ff00","#787878"]},"legend":null}}},
{"transform":[{"filter":"datum.k == 'H'"},{"aggregate":[{"op":"min","field":"y0","as":"b"},{"op":"max","field":"y1","as":"t"}],"groupby":["p"]}],"mark":{"type":"bar","width":4,"xOffset":7,"color":"#ff0000"},"encoding":{"y":{"field":"b","type":"quantitative","scale":{"domain":[-19.313,17.829],"nice":false,"zero":false},"axis":null},"y2":{"field":"t"}}},
{"transform":[{"filter":"datum.k == 'H' && datum.i == 4"}],"mark":{"type":"bar","width":18,"color":"#ff0000"}},
{"transform":[{"filter":"datum.k == 'H' && (datum.i == 1 || datum.i == 7)"}],"mark":{"type":"bar","width":9,"xOffset":-7,"color":"#ff0000"}},
{"transform":[{"filter":"datum.k == 'H' && (datum.i == 1 || datum.i == 7)"}],"mark":{"type":"bar","width":9,"xOffset":7,"color":"#ff0000"}},
{"transform":[{"filter":"datum.k == 'E' && (datum.i == 1 || datum.i == 7)"}],"mark":{"type":"bar","width":20,"color":"#00ff00"}},
{"transform":[{"filter":"datum.k == 'E' && datum.i == 4"}],"mark":{"type":"bar","width":13,"xOffset":-2.5,"color":"#00ff00"}},
{"transform":[{"filter":"datum.k == 'E' && (datum.i <= 2 || datum.i >= 6)"}],"mark":{"type":"bar","width":3,"xOffset":8.5,"color":"#00ff00"}},
{"transform":[{"filter":"datum.k == 'C' && (datum.i == 1 || datum.i == 7)"}],"mark":{"type":"bar","width":15,"xOffset":0.5,"color":"#787878"}},
{"transform":[{"filter":"datum.k == 'C' && (datum.i == 5 || datum.i == 6)"}],"mark":{"type":"bar","width":3,"xOffset":7.5,"color":"#787878"}}
]},
{"data":{"values":[{}]},"mark":{"type":"rule","strokeWidth":3,"color":"#000"},"encoding":{"y":{"datum":0,"type":"quantitative","scale":{"domain":[-19.313,17.829],"nice":false,"zero":false},"axis":{"values":[7,14],"labelExpr":"datum.value == 7 ? '1' : '2'","title":null}}}},
{"data":{"values":[{}]},"mark":{"type":"rule","strokeWidth":2.5,"color":"#000"},"encoding":{"x":{"datum":-0.757,"type":"quantitative","scale":{"domain":[-0.807,50.6],"nice":false,"zero":false},"axis":null},"y":{"datum":0,"type":"quantitative","scale":{"domain":[-19.313,17.829],"nice":false,"zero":false},"axis":null},"y2":{"datum":14}}},
{"data":{"name":"res"},"transform":[{"filter":{"field":"p","range":[1,50]}}],"mark":{"type":"text","fontSize":22,"baseline":"alphabetic","color":"#000"},"encoding":{"x":{"field":"p","type":"quantitative","scale":{"domain":[-0.807,50.6],"nice":false,"zero":false},"axis":null},"y":{"datum":-3.29,"type":"quantitative","scale":{"domain":[-19.313,17.829],"nice":false,"zero":false},"axis":null},"text":{"field":"a"}}},
{"data":{"name":"res"},"transform":[{"filter":{"field":"p","range":[1,50]}},{"filter":"datum.p % 10 == 0 || datum.p == 1"}],"mark":{"type":"text","fontSize":19,"angle":270,"align":"right","baseline":"middle","color":"#000"},"encoding":{"x":{"field":"p","type":"quantitative","scale":{"domain":[-0.807,50.6],"nice":false,"zero":false},"axis":null},"y":{"datum":-4.2,"type":"quantitative","scale":{"domain":[-19.313,17.829],"nice":false,"zero":false},"axis":null},"text":{"field":"p","type":"quantitative"}}},
{"data":{"name":"seg"},"transform":[{"filter":"datum.e > -0.807 && datum.s < 50.6"}],"mark":{"type":"rule","strokeWidth":2.5,"color":"#000","clip":true},"encoding":{"x":{"field":"s","type":"quantitative","scale":{"domain":[-0.807,50.6],"nice":false,"zero":false},"axis":null},"x2":{"field":"e"},"y":{"datum":-10.29,"type":"quantitative","scale":{"domain":[-19.313,17.829],"nice":false,"zero":false},"axis":null}}},
{"data":{"name":"seg"},"transform":[{"filter":"datum.e > -0.807 && datum.s < 50.6"},{"fold":["s","e"],"as":["side","bx"]}],"mark":{"type":"rule","strokeWidth":2.5,"strokeCap":"square","color":"#000","clip":true},"encoding":{"x":{"field":"bx","type":"quantitative","scale":{"domain":[-0.807,50.6],"nice":false,"zero":false},"axis":null},"y":{"datum":-7.14,"type":"quantitative","scale":{"domain":[-19.313,17.829],"nice":false,"zero":false},"axis":null},"y2":{"datum":-10.29}}},
{"data":{"name":"seg"},"transform":[{"filter":{"field":"s","range":[-0.807,50.4]}}],"mark":{"type":"text","fontSize":21,"align":"left","baseline":"alphabetic","dx":1,"color":"#000"},"encoding":{"x":{"field":"s","type":"quantitative","scale":{"domain":[-0.807,50.6],"nice":false,"zero":false},"axis":null},"y":{"datum":-13.475,"type":"quantitative","scale":{"domain":[-19.313,17.829],"nice":false,"zero":false},"axis":null},"text":{"field":"t"}}}
]},
{"width":1280,"height":281.2,"layer":[
{"data":{"name":"res"},"transform":[{"filter":{"field":"p","range":[51,100]}},{"fold":["H","E","C","H","E","C","H","E","C","H","E","C","H","E","C","H","E","C","H","E","C"],"as":["k","v"]},{"window":[{"op":"row_number","as":"i"}],"groupby":["p","k"]},{"stack":"v","groupby":["p"],"sort":[{"field":"v","order":"ascending"},{"field":"k","order":"ascending"},{"field":"i","order":"ascending"}],"as":["y0","y1"]}],"encoding":{"x":{"field":"p","type":"quantitative","scale":{"domain":[49.193,100.6],"nice":false,"zero":false},"axis":null},"y":{"field":"y0","type":"quantitative","scale":{"domain":[-19.313,17.829],"nice":false,"zero":false},"axis":null},"y2":{"field":"y1"}},"layer":[
{"transform":[{"filter":"datum.k != 'C' || (datum.i > 1 && datum.i < 7)"},{"aggregate":[{"op":"min","field":"y0","as":"b"},{"op":"max","field":"y1","as":"t"}],"groupby":["p","k"]}],"mark":{"type":"bar","width":4,"xOffset":-7},"encoding":{"y":{"field":"b","type":"quantitative","scale":{"domain":[-19.313,17.829],"nice":false,"zero":false},"axis":null},"y2":{"field":"t"},"color":{"field":"k","type":"nominal","scale":{"domain":["H","E","C"],"range":["#ff0000","#00ff00","#787878"]},"legend":null}}},
{"transform":[{"filter":"datum.k == 'H'"},{"aggregate":[{"op":"min","field":"y0","as":"b"},{"op":"max","field":"y1","as":"t"}],"groupby":["p"]}],"mark":{"type":"bar","width":4,"xOffset":7,"color":"#ff0000"},"encoding":{"y":{"field":"b","type":"quantitative","scale":{"domain":[-19.313,17.829],"nice":false,"zero":false},"axis":null},"y2":{"field":"t"}}},
{"transform":[{"filter":"datum.k == 'H' && datum.i == 4"}],"mark":{"type":"bar","width":18,"color":"#ff0000"}},
{"transform":[{"filter":"datum.k == 'H' && (datum.i == 1 || datum.i == 7)"}],"mark":{"type":"bar","width":9,"xOffset":-7,"color":"#ff0000"}},
{"transform":[{"filter":"datum.k == 'H' && (datum.i == 1 || datum.i == 7)"}],"mark":{"type":"bar","width":9,"xOffset":7,"color":"#ff0000"}},
{"transform":[{"filter":"datum.k == 'E' && (datum.i == 1 || datum.i == 7)"}],"mark":{"type":"bar","width":20,"color":"#00ff00"}},
{"transform":[{"filter":"datum.k == 'E' && datum.i == 4"}],"mark":{"type":"bar","width":13,"xOffset":-2.5,"color":"#00ff00"}},
{"transform":[{"filter":"datum.k == 'E' && (datum.i <= 2 || datum.i >= 6)"}],"mark":{"type":"bar","width":3,"xOffset":8.5,"color":"#00ff00"}},
{"transform":[{"filter":"datum.k == 'C' && (datum.i == 1 || datum.i == 7)"}],"mark":{"type":"bar","width":15,"xOffset":0.5,"color":"#787878"}},
{"transform":[{"filter":"datum.k == 'C' && (datum.i == 5 || datum.i == 6)"}],"mark":{"type":"bar","width":3,"xOffset":7.5,"color":"#787878"}}
]},
{"data":{"values":[{}]},"mark":{"type":"rule","strokeWidth":3,"color":"#000"},"encoding":{"y":{"datum":0,"type":"quantitative","scale":{"domain":[-19.313,17.829],"nice":false,"zero":false},"axis":{"values":[7,14],"labelExpr":"datum.value == 7 ? '1' : '2'","title":null}}}},
{"data":{"values":[{}]},"mark":{"type":"rule","strokeWidth":2.5,"color":"#000"},"encoding":{"x":{"datum":49.243,"type":"quantitative","scale":{"domain":[49.193,100.6],"nice":false,"zero":false},"axis":null},"y":{"datum":0,"type":"quantitative","scale":{"domain":[-19.313,17.829],"nice":false,"zero":false},"axis":null},"y2":{"datum":14}}},
{"data":{"name":"res"},"transform":[{"filter":{"field":"p","range":[51,100]}}],"mark":{"type":"text","fontSize":22,"baseline":"alphabetic","color":"#000"},"encoding":{"x":{"field":"p","type":"quantitative","scale":{"domain":[49.193,100.6],"nice":false,"zero":false},"axis":null},"y":{"datum":-3.29,"type":"quantitative","scale":{"domain":[-19.313,17.829],"nice":false,"zero":false},"axis":null},"text":{"field":"a"}}},
{"data":{"name":"res"},"transform":[{"filter":{"field":"p","range":[51,100]}},{"filter":"datum.p % 10 == 0 || datum.p == 51"}],"mark":{"type":"text","fontSize":19,"angle":270,"align":"right","baseline":"middle","color":"#000"},"encoding":{"x":{"field":"p","type":"quantitative","scale":{"domain":[49.193,100.6],"nice":false,"zero":false},"axis":null},"y":{"datum":-4.2,"type":"quantitative","scale":{"domain":[-19.313,17.829],"nice":false,"zero":false},"axis":null},"text":{"field":"p","type":"quantitative"}}},
{"data":{"name":"seg"},"transform":[{"filter":"datum.e > 49.193 && datum.s < 100.6"}],"mark":{"type":"rule","strokeWidth":2.5,"color":"#000","clip":true},"encoding":{"x":{"field":"s","type":"quantitative","scale":{"domain":[49.193,100.6],"nice":false,"zero":false},"axis":null},"x2":{"field":"e"},"y":{"datum":-10.29,"type":"quantitative","scale":{"domain":[-19.313,17.829],"nice":false,"zero":false},"axis":null}}},
{"data":{"name":"seg"},"transform":[{"filter":"datum.e > 49.193 && datum.s < 100.6"},{"fold":["s","e"],"as":["side","bx"]}],"mark":{"type":"rule","strokeWidth":2.5,"strokeCap":"square","color":"#000","clip":true},"encoding":{"x":{"field":"bx","type":"quantitative","scale":{"domain":[49.193,100.6],"nice":false,"zero":false},"axis":null},"y":{"datum":-7.14,"type":"quantitative","scale":{"domain":[-19.313,17.829],"nice":false,"zero":false},"axis":null},"y2":{"datum":-10.29}}},
{"data":{"name":"seg"},"transform":[{"filter":{"field":"s","range":[49.193,100.4]}}],"mark":{"type":"text","fontSize":21,"align":"left","baseline":"alphabetic","dx":1,"color":"#000"},"encoding":{"x":{"field":"s","type":"quantitative","scale":{"domain":[49.193,100.6],"nice":false,"zero":false},"axis":null},"y":{"datum":-13.475,"type":"quantitative","scale":{"domain":[-19.313,17.829],"nice":false,"zero":false},"axis":null},"text":{"field":"t"}}}
]},
{"width":1280,"height":281.2,"layer":[
{"data":{"name":"res"},"transform":[{"filter":{"field":"p","range":[101,150]}},{"fold":["H","E","C","H","E","C","H","E","C","H","E","C","H","E","C","H","E","C","H","E","C"],"as":["k","v"]},{"window":[{"op":"row_number","as":"i"}],"groupby":["p","k"]},{"stack":"v","groupby":["p"],"sort":[{"field":"v","order":"ascending"},{"field":"k","order":"ascending"},{"field":"i","order":"ascending"}],"as":["y0","y1"]}],"encoding":{"x":{"field":"p","type":"quantitative","scale":{"domain":[99.193,150.6],"nice":false,"zero":false},"axis":null},"y":{"field":"y0","type":"quantitative","scale":{"domain":[-19.313,17.829],"nice":false,"zero":false},"axis":null},"y2":{"field":"y1"}},"layer":[
{"transform":[{"filter":"datum.k != 'C' || (datum.i > 1 && datum.i < 7)"},{"aggregate":[{"op":"min","field":"y0","as":"b"},{"op":"max","field":"y1","as":"t"}],"groupby":["p","k"]}],"mark":{"type":"bar","width":4,"xOffset":-7},"encoding":{"y":{"field":"b","type":"quantitative","scale":{"domain":[-19.313,17.829],"nice":false,"zero":false},"axis":null},"y2":{"field":"t"},"color":{"field":"k","type":"nominal","scale":{"domain":["H","E","C"],"range":["#ff0000","#00ff00","#787878"]},"legend":null}}},
{"transform":[{"filter":"datum.k == 'H'"},{"aggregate":[{"op":"min","field":"y0","as":"b"},{"op":"max","field":"y1","as":"t"}],"groupby":["p"]}],"mark":{"type":"bar","width":4,"xOffset":7,"color":"#ff0000"},"encoding":{"y":{"field":"b","type":"quantitative","scale":{"domain":[-19.313,17.829],"nice":false,"zero":false},"axis":null},"y2":{"field":"t"}}},
{"transform":[{"filter":"datum.k == 'H' && datum.i == 4"}],"mark":{"type":"bar","width":18,"color":"#ff0000"}},
{"transform":[{"filter":"datum.k == 'H' && (datum.i == 1 || datum.i == 7)"}],"mark":{"type":"bar","width":9,"xOffset":-7,"color":"#ff0000"}},
{"transform":[{"filter":"datum.k == 'H' && (datum.i == 1 || datum.i == 7)"}],"mark":{"type":"bar","width":9,"xOffset":7,"color":"#ff0000"}},
{"transform":[{"filter":"datum.k == 'E' && (datum.i == 1 || datum.i == 7)"}],"mark":{"type":"bar","width":20,"color":"#00ff00"}},
{"transform":[{"filter":"datum.k == 'E' && datum.i == 4"}],"mark":{"type":"bar","width":13,"xOffset":-2.5,"color":"#00ff00"}},
{"transform":[{"filter":"datum.k == 'E' && (datum.i <= 2 || datum.i >= 6)"}],"mark":{"type":"bar","width":3,"xOffset":8.5,"color":"#00ff00"}},
{"transform":[{"filter":"datum.k == 'C' && (datum.i == 1 || datum.i == 7)"}],"mark":{"type":"bar","width":15,"xOffset":0.5,"color":"#787878"}},
{"transform":[{"filter":"datum.k == 'C' && (datum.i == 5 || datum.i == 6)"}],"mark":{"type":"bar","width":3,"xOffset":7.5,"color":"#787878"}}
]},
{"data":{"values":[{}]},"mark":{"type":"rule","strokeWidth":3,"color":"#000"},"encoding":{"y":{"datum":0,"type":"quantitative","scale":{"domain":[-19.313,17.829],"nice":false,"zero":false},"axis":{"values":[7,14],"labelExpr":"datum.value == 7 ? '1' : '2'","title":null}}}},
{"data":{"values":[{}]},"mark":{"type":"rule","strokeWidth":2.5,"color":"#000"},"encoding":{"x":{"datum":99.243,"type":"quantitative","scale":{"domain":[99.193,150.6],"nice":false,"zero":false},"axis":null},"y":{"datum":0,"type":"quantitative","scale":{"domain":[-19.313,17.829],"nice":false,"zero":false},"axis":null},"y2":{"datum":14}}},
{"data":{"name":"res"},"transform":[{"filter":{"field":"p","range":[101,150]}}],"mark":{"type":"text","fontSize":22,"baseline":"alphabetic","color":"#000"},"encoding":{"x":{"field":"p","type":"quantitative","scale":{"domain":[99.193,150.6],"nice":false,"zero":false},"axis":null},"y":{"datum":-3.29,"type":"quantitative","scale":{"domain":[-19.313,17.829],"nice":false,"zero":false},"axis":null},"text":{"field":"a"}}},
{"data":{"name":"res"},"transform":[{"filter":{"field":"p","range":[101,150]}},{"filter":"datum.p % 10 == 0 || datum.p == 101"}],"mark":{"type":"text","fontSize":19,"angle":270,"align":"right","baseline":"middle","color":"#000"},"encoding":{"x":{"field":"p","type":"quantitative","scale":{"domain":[99.193,150.6],"nice":false,"zero":false},"axis":null},"y":{"datum":-4.2,"type":"quantitative","scale":{"domain":[-19.313,17.829],"nice":false,"zero":false},"axis":null},"text":{"field":"p","type":"quantitative"}}},
{"data":{"name":"seg"},"transform":[{"filter":"datum.e > 99.193 && datum.s < 150.6"}],"mark":{"type":"rule","strokeWidth":2.5,"color":"#000","clip":true},"encoding":{"x":{"field":"s","type":"quantitative","scale":{"domain":[99.193,150.6],"nice":false,"zero":false},"axis":null},"x2":{"field":"e"},"y":{"datum":-10.29,"type":"quantitative","scale":{"domain":[-19.313,17.829],"nice":false,"zero":false},"axis":null}}},
{"data":{"name":"seg"},"transform":[{"filter":"datum.e > 99.193 && datum.s < 150.6"},{"fold":["s","e"],"as":["side","bx"]}],"mark":{"type":"rule","strokeWidth":2.5,"strokeCap":"square","color":"#000","clip":true},"encoding":{"x":{"field":"bx","type":"quantitative","scale":{"domain":[99.193,150.6],"nice":false,"zero":false},"axis":null},"y":{"datum":-7.14,"type":"quantitative","scale":{"domain":[-19.313,17.829],"nice":false,"zero":false},"axis":null},"y2":{"datum":-10.29}}},
{"data":{"name":"seg"},"transform":[{"filter":{"field":"s","range":[99.193,150.4]}}],"mark":{"type":"text","fontSize":21,"align":"left","baseline":"alphabetic","dx":1,"color":"#000"},"encoding":{"x":{"field":"s","type":"quantitative","scale":{"domain":[99.193,150.6],"nice":false,"zero":false},"axis":null},"y":{"datum":-13.475,"type":"quantitative","scale":{"domain":[-19.313,17.829],"nice":false,"zero":false},"axis":null},"text":{"field":"t"}}}
]},
{"width":1280,"height":281.2,"layer":[
{"data":{"name":"res"},"transform":[{"filter":{"field":"p","range":[151,200]}},{"fold":["H","E","C","H","E","C","H","E","C","H","E","C","H","E","C","H","E","C","H","E","C"],"as":["k","v"]},{"window":[{"op":"row_number","as":"i"}],"groupby":["p","k"]},{"stack":"v","groupby":["p"],"sort":[{"field":"v","order":"ascending"},{"field":"k","order":"ascending"},{"field":"i","order":"ascending"}],"as":["y0","y1"]}],"encoding":{"x":{"field":"p","type":"quantitative","scale":{"domain":[149.193,200.6],"nice":false,"zero":false},"axis":null},"y":{"field":"y0","type":"quantitative","scale":{"domain":[-19.313,17.829],"nice":false,"zero":false},"axis":null},"y2":{"field":"y1"}},"layer":[
{"transform":[{"filter":"datum.k != 'C' || (datum.i > 1 && datum.i < 7)"},{"aggregate":[{"op":"min","field":"y0","as":"b"},{"op":"max","field":"y1","as":"t"}],"groupby":["p","k"]}],"mark":{"type":"bar","width":4,"xOffset":-7},"encoding":{"y":{"field":"b","type":"quantitative","scale":{"domain":[-19.313,17.829],"nice":false,"zero":false},"axis":null},"y2":{"field":"t"},"color":{"field":"k","type":"nominal","scale":{"domain":["H","E","C"],"range":["#ff0000","#00ff00","#787878"]},"legend":null}}},
{"transform":[{"filter":"datum.k == 'H'"},{"aggregate":[{"op":"min","field":"y0","as":"b"},{"op":"max","field":"y1","as":"t"}],"groupby":["p"]}],"mark":{"type":"bar","width":4,"xOffset":7,"color":"#ff0000"},"encoding":{"y":{"field":"b","type":"quantitative","scale":{"domain":[-19.313,17.829],"nice":false,"zero":false},"axis":null},"y2":{"field":"t"}}},
{"transform":[{"filter":"datum.k == 'H' && datum.i == 4"}],"mark":{"type":"bar","width":18,"color":"#ff0000"}},
{"transform":[{"filter":"datum.k == 'H' && (datum.i == 1 || datum.i == 7)"}],"mark":{"type":"bar","width":9,"xOffset":-7,"color":"#ff0000"}},
{"transform":[{"filter":"datum.k == 'H' && (datum.i == 1 || datum.i == 7)"}],"mark":{"type":"bar","width":9,"xOffset":7,"color":"#ff0000"}},
{"transform":[{"filter":"datum.k == 'E' && (datum.i == 1 || datum.i == 7)"}],"mark":{"type":"bar","width":20,"color":"#00ff00"}},
{"transform":[{"filter":"datum.k == 'E' && datum.i == 4"}],"mark":{"type":"bar","width":13,"xOffset":-2.5,"color":"#00ff00"}},
{"transform":[{"filter":"datum.k == 'E' && (datum.i <= 2 || datum.i >= 6)"}],"mark":{"type":"bar","width":3,"xOffset":8.5,"color":"#00ff00"}},
{"transform":[{"filter":"datum.k == 'C' && (datum.i == 1 || datum.i == 7)"}],"mark":{"type":"bar","width":15,"xOffset":0.5,"color":"#787878"}},
{"transform":[{"filter":"datum.k == 'C' && (datum.i == 5 || datum.i == 6)"}],"mark":{"type":"bar","width":3,"xOffset":7.5,"color":"#787878"}}
]},
{"data":{"values":[{}]},"mark":{"type":"rule","strokeWidth":3,"color":"#000"},"encoding":{"y":{"datum":0,"type":"quantitative","scale":{"domain":[-19.313,17.829],"nice":false,"zero":false},"axis":{"values":[7,14],"labelExpr":"datum.value == 7 ? '1' : '2'","title":null}}}},
{"data":{"values":[{}]},"mark":{"type":"rule","strokeWidth":2.5,"color":"#000"},"encoding":{"x":{"datum":149.243,"type":"quantitative","scale":{"domain":[149.193,200.6],"nice":false,"zero":false},"axis":null},"y":{"datum":0,"type":"quantitative","scale":{"domain":[-19.313,17.829],"nice":false,"zero":false},"axis":null},"y2":{"datum":14}}},
{"data":{"name":"res"},"transform":[{"filter":{"field":"p","range":[151,200]}}],"mark":{"type":"text","fontSize":22,"baseline":"alphabetic","color":"#000"},"encoding":{"x":{"field":"p","type":"quantitative","scale":{"domain":[149.193,200.6],"nice":false,"zero":false},"axis":null},"y":{"datum":-3.29,"type":"quantitative","scale":{"domain":[-19.313,17.829],"nice":false,"zero":false},"axis":null},"text":{"field":"a"}}},
{"data":{"name":"res"},"transform":[{"filter":{"field":"p","range":[151,200]}},{"filter":"datum.p % 10 == 0 || datum.p == 151"}],"mark":{"type":"text","fontSize":19,"angle":270,"align":"right","baseline":"middle","color":"#000"},"encoding":{"x":{"field":"p","type":"quantitative","scale":{"domain":[149.193,200.6],"nice":false,"zero":false},"axis":null},"y":{"datum":-4.2,"type":"quantitative","scale":{"domain":[-19.313,17.829],"nice":false,"zero":false},"axis":null},"text":{"field":"p","type":"quantitative"}}},
{"data":{"name":"seg"},"transform":[{"filter":"datum.e > 149.193 && datum.s < 200.6"}],"mark":{"type":"rule","strokeWidth":2.5,"color":"#000","clip":true},"encoding":{"x":{"field":"s","type":"quantitative","scale":{"domain":[149.193,200.6],"nice":false,"zero":false},"axis":null},"x2":{"field":"e"},"y":{"datum":-10.29,"type":"quantitative","scale":{"domain":[-19.313,17.829],"nice":false,"zero":false},"axis":null}}},
{"data":{"name":"seg"},"transform":[{"filter":"datum.e > 149.193 && datum.s < 200.6"},{"fold":["s","e"],"as":["side","bx"]}],"mark":{"type":"rule","strokeWidth":2.5,"strokeCap":"square","color":"#000","clip":true},"encoding":{"x":{"field":"bx","type":"quantitative","scale":{"domain":[149.193,200.6],"nice":false,"zero":false},"axis":null},"y":{"datum":-7.14,"type":"quantitative","scale":{"domain":[-19.313,17.829],"nice":false,"zero":false},"axis":null},"y2":{"datum":-10.29}}},
{"data":{"name":"seg"},"transform":[{"filter":{"field":"s","range":[149.193,200.4]}}],"mark":{"type":"text","fontSize":21,"align":"left","baseline":"alphabetic","dx":1,"color":"#000"},"encoding":{"x":{"field":"s","type":"quantitative","scale":{"domain":[149.193,200.6],"nice":false,"zero":false},"axis":null},"y":{"datum":-13.475,"type":"quantitative","scale":{"domain":[-19.313,17.829],"nice":false,"zero":false},"axis":null},"text":{"field":"t"}}}
]},
{"width":1280,"height":281.2,"layer":[
{"data":{"name":"res"},"transform":[{"filter":{"field":"p","range":[201,250]}},{"fold":["H","E","C","H","E","C","H","E","C","H","E","C","H","E","C","H","E","C","H","E","C"],"as":["k","v"]},{"window":[{"op":"row_number","as":"i"}],"groupby":["p","k"]},{"stack":"v","groupby":["p"],"sort":[{"field":"v","order":"ascending"},{"field":"k","order":"ascending"},{"field":"i","order":"ascending"}],"as":["y0","y1"]}],"encoding":{"x":{"field":"p","type":"quantitative","scale":{"domain":[199.193,250.6],"nice":false,"zero":false},"axis":null},"y":{"field":"y0","type":"quantitative","scale":{"domain":[-19.313,17.829],"nice":false,"zero":false},"axis":null},"y2":{"field":"y1"}},"layer":[
{"transform":[{"filter":"datum.k != 'C' || (datum.i > 1 && datum.i < 7)"},{"aggregate":[{"op":"min","field":"y0","as":"b"},{"op":"max","field":"y1","as":"t"}],"groupby":["p","k"]}],"mark":{"type":"bar","width":4,"xOffset":-7},"encoding":{"y":{"field":"b","type":"quantitative","scale":{"domain":[-19.313,17.829],"nice":false,"zero":false},"axis":null},"y2":{"field":"t"},"color":{"field":"k","type":"nominal","scale":{"domain":["H","E","C"],"range":["#ff0000","#00ff00","#787878"]},"legend":null}}},
{"transform":[{"filter":"datum.k == 'H'"},{"aggregate":[{"op":"min","field":"y0","as":"b"},{"op":"max","field":"y1","as":"t"}],"groupby":["p"]}],"mark":{"type":"bar","width":4,"xOffset":7,"color":"#ff0000"},"encoding":{"y":{"field":"b","type":"quantitative","scale":{"domain":[-19.313,17.829],"nice":false,"zero":false},"axis":null},"y2":{"field":"t"}}},
{"transform":[{"filter":"datum.k == 'H' && datum.i == 4"}],"mark":{"type":"bar","width":18,"color":"#ff0000"}},
{"transform":[{"filter":"datum.k == 'H' && (datum.i == 1 || datum.i == 7)"}],"mark":{"type":"bar","width":9,"xOffset":-7,"color":"#ff0000"}},
{"transform":[{"filter":"datum.k == 'H' && (datum.i == 1 || datum.i == 7)"}],"mark":{"type":"bar","width":9,"xOffset":7,"color":"#ff0000"}},
{"transform":[{"filter":"datum.k == 'E' && (datum.i == 1 || datum.i == 7)"}],"mark":{"type":"bar","width":20,"color":"#00ff00"}},
{"transform":[{"filter":"datum.k == 'E' && datum.i == 4"}],"mark":{"type":"bar","width":13,"xOffset":-2.5,"color":"#00ff00"}},
{"transform":[{"filter":"datum.k == 'E' && (datum.i <= 2 || datum.i >= 6)"}],"mark":{"type":"bar","width":3,"xOffset":8.5,"color":"#00ff00"}},
{"transform":[{"filter":"datum.k == 'C' && (datum.i == 1 || datum.i == 7)"}],"mark":{"type":"bar","width":15,"xOffset":0.5,"color":"#787878"}},
{"transform":[{"filter":"datum.k == 'C' && (datum.i == 5 || datum.i == 6)"}],"mark":{"type":"bar","width":3,"xOffset":7.5,"color":"#787878"}}
]},
{"data":{"values":[{}]},"mark":{"type":"rule","strokeWidth":3,"color":"#000"},"encoding":{"y":{"datum":0,"type":"quantitative","scale":{"domain":[-19.313,17.829],"nice":false,"zero":false},"axis":{"values":[7,14],"labelExpr":"datum.value == 7 ? '1' : '2'","title":null}}}},
{"data":{"values":[{}]},"mark":{"type":"rule","strokeWidth":2.5,"color":"#000"},"encoding":{"x":{"datum":199.243,"type":"quantitative","scale":{"domain":[199.193,250.6],"nice":false,"zero":false},"axis":null},"y":{"datum":0,"type":"quantitative","scale":{"domain":[-19.313,17.829],"nice":false,"zero":false},"axis":null},"y2":{"datum":14}}},
{"data":{"name":"res"},"transform":[{"filter":{"field":"p","range":[201,250]}}],"mark":{"type":"text","fontSize":22,"baseline":"alphabetic","color":"#000"},"encoding":{"x":{"field":"p","type":"quantitative","scale":{"domain":[199.193,250.6],"nice":false,"zero":false},"axis":null},"y":{"datum":-3.29,"type":"quantitative","scale":{"domain":[-19.313,17.829],"nice":false,"zero":false},"axis":null},"text":{"field":"a"}}},
{"data":{"name":"res"},"transform":[{"filter":{"field":"p","range":[201,250]}},{"filter":"datum.p % 10 == 0 || datum.p == 201"}],"mark":{"type":"text","fontSize":19,"angle":270,"align":"right","baseline":"middle","color":"#000"},"encoding":{"x":{"field":"p","type":"quantitative","scale":{"domain":[199.193,250.6],"nice":false,"zero":false},"axis":null},"y":{"datum":-4.2,"type":"quantitative","scale":{"domain":[-19.313,17.829],"nice":false,"zero":false},"axis":null},"text":{"field":"p","type":"quantitative"}}},
{"data":{"name":"seg"},"transform":[{"filter":"datum.e > 199.193 && datum.s < 250.6"}],"mark":{"type":"rule","strokeWidth":2.5,"color":"#000","clip":true},"encoding":{"x":{"field":"s","type":"quantitative","scale":{"domain":[199.193,250.6],"nice":false,"zero":false},"axis":null},"x2":{"field":"e"},"y":{"datum":-10.29,"type":"quantitative","scale":{"domain":[-19.313,17.829],"nice":false,"zero":false},"axis":null}}},
{"data":{"name":"seg"},"transform":[{"filter":"datum.e > 199.193 && datum.s < 250.6"},{"fold":["s","e"],"as":["side","bx"]}],"mark":{"type":"rule","strokeWidth":2.5,"strokeCap":"square","color":"#000","clip":true},"encoding":{"x":{"field":"bx","type":"quantitative","scale":{"domain":[199.193,250.6],"nice":false,"zero":false},"axis":null},"y":{"datum":-7.14,"type":"quantitative","scale":{"domain":[-19.313,17.829],"nice":false,"zero":false},"axis":null},"y2":{"datum":-10.29}}},
{"data":{"name":"seg"},"transform":[{"filter":{"field":"s","range":[199.193,250.4]}}],"mark":{"type":"text","fontSize":21,"align":"left","baseline":"alphabetic","dx":1,"color":"#000"},"encoding":{"x":{"field":"s","type":"quantitative","scale":{"domain":[199.193,250.6],"nice":false,"zero":false},"axis":null},"y":{"datum":-13.475,"type":"quantitative","scale":{"domain":[-19.313,17.829],"nice":false,"zero":false},"axis":null},"text":{"field":"t"}}}
]},
{"width":1280,"height":281.2,"layer":[
{"data":{"name":"res"},"transform":[{"filter":{"field":"p","range":[251,300]}},{"fold":["H","E","C","H","E","C","H","E","C","H","E","C","H","E","C","H","E","C","H","E","C"],"as":["k","v"]},{"window":[{"op":"row_number","as":"i"}],"groupby":["p","k"]},{"stack":"v","groupby":["p"],"sort":[{"field":"v","order":"ascending"},{"field":"k","order":"ascending"},{"field":"i","order":"ascending"}],"as":["y0","y1"]}],"encoding":{"x":{"field":"p","type":"quantitative","scale":{"domain":[249.193,300.6],"nice":false,"zero":false},"axis":null},"y":{"field":"y0","type":"quantitative","scale":{"domain":[-19.313,17.829],"nice":false,"zero":false},"axis":null},"y2":{"field":"y1"}},"layer":[
{"transform":[{"filter":"datum.k != 'C' || (datum.i > 1 && datum.i < 7)"},{"aggregate":[{"op":"min","field":"y0","as":"b"},{"op":"max","field":"y1","as":"t"}],"groupby":["p","k"]}],"mark":{"type":"bar","width":4,"xOffset":-7},"encoding":{"y":{"field":"b","type":"quantitative","scale":{"domain":[-19.313,17.829],"nice":false,"zero":false},"axis":null},"y2":{"field":"t"},"color":{"field":"k","type":"nominal","scale":{"domain":["H","E","C"],"range":["#ff0000","#00ff00","#787878"]},"legend":null}}},
{"transform":[{"filter":"datum.k == 'H'"},{"aggregate":[{"op":"min","field":"y0","as":"b"},{"op":"max","field":"y1","as":"t"}],"groupby":["p"]}],"mark":{"type":"bar","width":4,"xOffset":7,"color":"#ff0000"},"encoding":{"y":{"field":"b","type":"quantitative","scale":{"domain":[-19.313,17.829],"nice":false,"zero":false},"axis":null},"y2":{"field":"t"}}},
{"transform":[{"filter":"datum.k == 'H' && datum.i == 4"}],"mark":{"type":"bar","width":18,"color":"#ff0000"}},
{"transform":[{"filter":"datum.k == 'H' && (datum.i == 1 || datum.i == 7)"}],"mark":{"type":"bar","width":9,"xOffset":-7,"color":"#ff0000"}},
{"transform":[{"filter":"datum.k == 'H' && (datum.i == 1 || datum.i == 7)"}],"mark":{"type":"bar","width":9,"xOffset":7,"color":"#ff0000"}},
{"transform":[{"filter":"datum.k == 'E' && (datum.i == 1 || datum.i == 7)"}],"mark":{"type":"bar","width":20,"color":"#00ff00"}},
{"transform":[{"filter":"datum.k == 'E' && datum.i == 4"}],"mark":{"type":"bar","width":13,"xOffset":-2.5,"color":"#00ff00"}},
{"transform":[{"filter":"datum.k == 'E' && (datum.i <= 2 || datum.i >= 6)"}],"mark":{"type":"bar","width":3,"xOffset":8.5,"color":"#00ff00"}},
{"transform":[{"filter":"datum.k == 'C' && (datum.i == 1 || datum.i == 7)"}],"mark":{"type":"bar","width":15,"xOffset":0.5,"color":"#787878"}},
{"transform":[{"filter":"datum.k == 'C' && (datum.i == 5 || datum.i == 6)"}],"mark":{"type":"bar","width":3,"xOffset":7.5,"color":"#787878"}}
]},
{"data":{"values":[{}]},"mark":{"type":"rule","strokeWidth":3,"color":"#000"},"encoding":{"y":{"datum":0,"type":"quantitative","scale":{"domain":[-19.313,17.829],"nice":false,"zero":false},"axis":{"values":[7,14],"labelExpr":"datum.value == 7 ? '1' : '2'","title":null}}}},
{"data":{"values":[{}]},"mark":{"type":"rule","strokeWidth":2.5,"color":"#000"},"encoding":{"x":{"datum":249.243,"type":"quantitative","scale":{"domain":[249.193,300.6],"nice":false,"zero":false},"axis":null},"y":{"datum":0,"type":"quantitative","scale":{"domain":[-19.313,17.829],"nice":false,"zero":false},"axis":null},"y2":{"datum":14}}},
{"data":{"name":"res"},"transform":[{"filter":{"field":"p","range":[251,300]}}],"mark":{"type":"text","fontSize":22,"baseline":"alphabetic","color":"#000"},"encoding":{"x":{"field":"p","type":"quantitative","scale":{"domain":[249.193,300.6],"nice":false,"zero":false},"axis":null},"y":{"datum":-3.29,"type":"quantitative","scale":{"domain":[-19.313,17.829],"nice":false,"zero":false},"axis":null},"text":{"field":"a"}}},
{"data":{"name":"res"},"transform":[{"filter":{"field":"p","range":[251,300]}},{"filter":"datum.p % 10 == 0 || datum.p == 251"}],"mark":{"type":"text","fontSize":19,"angle":270,"align":"right","baseline":"middle","color":"#000"},"encoding":{"x":{"field":"p","type":"quantitative","scale":{"domain":[249.193,300.6],"nice":false,"zero":false},"axis":null},"y":{"datum":-4.2,"type":"quantitative","scale":{"domain":[-19.313,17.829],"nice":false,"zero":false},"axis":null},"text":{"field":"p","type":"quantitative"}}},
{"data":{"name":"seg"},"transform":[{"filter":"datum.e > 249.193 && datum.s < 300.6"}],"mark":{"type":"rule","strokeWidth":2.5,"color":"#000","clip":true},"encoding":{"x":{"field":"s","type":"quantitative","scale":{"domain":[249.193,300.6],"nice":false,"zero":false},"axis":null},"x2":{"field":"e"},"y":{"datum":-10.29,"type":"quantitative","scale":{"domain":[-19.313,17.829],"nice":false,"zero":false},"axis":null}}},
{"data":{"name":"seg"},"transform":[{"filter":"datum.e > 249.193 && datum.s < 300.6"},{"fold":["s","e"],"as":["side","bx"]}],"mark":{"type":"rule","strokeWidth":2.5,"strokeCap":"square","color":"#000","clip":true},"encoding":{"x":{"field":"bx","type":"quantitative","scale":{"domain":[249.193,300.6],"nice":false,"zero":false},"axis":null},"y":{"datum":-7.14,"type":"quantitative","scale":{"domain":[-19.313,17.829],"nice":false,"zero":false},"axis":null},"y2":{"datum":-10.29}}},
{"data":{"name":"seg"},"transform":[{"filter":{"field":"s","range":[249.193,300.4]}}],"mark":{"type":"text","fontSize":21,"align":"left","baseline":"alphabetic","dx":1,"color":"#000"},"encoding":{"x":{"field":"s","type":"quantitative","scale":{"domain":[249.193,300.6],"nice":false,"zero":false},"axis":null},"y":{"datum":-13.475,"type":"quantitative","scale":{"domain":[-19.313,17.829],"nice":false,"zero":false},"axis":null},"text":{"field":"t"}}}
]},
{"width":1280,"height":281.2,"layer":[
{"data":{"name":"res"},"transform":[{"filter":{"field":"p","range":[301,350]}},{"fold":["H","E","C","H","E","C","H","E","C","H","E","C","H","E","C","H","E","C","H","E","C"],"as":["k","v"]},{"window":[{"op":"row_number","as":"i"}],"groupby":["p","k"]},{"stack":"v","groupby":["p"],"sort":[{"field":"v","order":"ascending"},{"field":"k","order":"ascending"},{"field":"i","order":"ascending"}],"as":["y0","y1"]}],"encoding":{"x":{"field":"p","type":"quantitative","scale":{"domain":[299.193,350.6],"nice":false,"zero":false},"axis":null},"y":{"field":"y0","type":"quantitative","scale":{"domain":[-19.313,17.829],"nice":false,"zero":false},"axis":null},"y2":{"field":"y1"}},"layer":[
{"transform":[{"filter":"datum.k != 'C' || (datum.i > 1 && datum.i < 7)"},{"aggregate":[{"op":"min","field":"y0","as":"b"},{"op":"max","field":"y1","as":"t"}],"groupby":["p","k"]}],"mark":{"type":"bar","width":4,"xOffset":-7},"encoding":{"y":{"field":"b","type":"quantitative","scale":{"domain":[-19.313,17.829],"nice":false,"zero":false},"axis":null},"y2":{"field":"t"},"color":{"field":"k","type":"nominal","scale":{"domain":["H","E","C"],"range":["#ff0000","#00ff00","#787878"]},"legend":null}}},
{"transform":[{"filter":"datum.k == 'H'"},{"aggregate":[{"op":"min","field":"y0","as":"b"},{"op":"max","field":"y1","as":"t"}],"groupby":["p"]}],"mark":{"type":"bar","width":4,"xOffset":7,"color":"#ff0000"},"encoding":{"y":{"field":"b","type":"quantitative","scale":{"domain":[-19.313,17.829],"nice":false,"zero":false},"axis":null},"y2":{"field":"t"}}},
{"transform":[{"filter":"datum.k == 'H' && datum.i == 4"}],"mark":{"type":"bar","width":18,"color":"#ff0000"}},
{"transform":[{"filter":"datum.k == 'H' && (datum.i == 1 || datum.i == 7)"}],"mark":{"type":"bar","width":9,"xOffset":-7,"color":"#ff0000"}},
{"transform":[{"filter":"datum.k == 'H' && (datum.i == 1 || datum.i == 7)"}],"mark":{"type":"bar","width":9,"xOffset":7,"color":"#ff0000"}},
{"transform":[{"filter":"datum.k == 'E' && (datum.i == 1 || datum.i == 7)"}],"mark":{"type":"bar","width":20,"color":"#00ff00"}},
{"transform":[{"filter":"datum.k == 'E' && datum.i == 4"}],"mark":{"type":"bar","width":13,"xOffset":-2.5,"color":"#00ff00"}},
{"transform":[{"filter":"datum.k == 'E' && (datum.i <= 2 || datum.i >= 6)"}],"mark":{"type":"bar","width":3,"xOffset":8.5,"color":"#00ff00"}},
{"transform":[{"filter":"datum.k == 'C' && (datum.i == 1 || datum.i == 7)"}],"mark":{"type":"bar","width":15,"xOffset":0.5,"color":"#787878"}},
{"transform":[{"filter":"datum.k == 'C' && (datum.i == 5 || datum.i == 6)"}],"mark":{"type":"bar","width":3,"xOffset":7.5,"color":"#787878"}}
]},
{"data":{"values":[{}]},"mark":{"type":"rule","strokeWidth":3,"color":"#000"},"encoding":{"y":{"datum":0,"type":"quantitative","scale":{"domain":[-19.313,17.829],"nice":false,"zero":false},"axis":{"values":[7,14],"labelExpr":"datum.value == 7 ? '1' : '2'","title":null}}}},
{"data":{"values":[{}]},"mark":{"type":"rule","strokeWidth":2.5,"color":"#000"},"encoding":{"x":{"datum":299.243,"type":"quantitative","scale":{"domain":[299.193,350.6],"nice":false,"zero":false},"axis":null},"y":{"datum":0,"type":"quantitative","scale":{"domain":[-19.313,17.829],"nice":false,"zero":false},"axis":null},"y2":{"datum":14}}},
{"data":{"name":"res"},"transform":[{"filter":{"field":"p","range":[301,350]}}],"mark":{"type":"text","fontSize":22,"baseline":"alphabetic","color":"#000"},"encoding":{"x":{"field":"p","type":"quantitative","scale":{"domain":[299.193,350.6],"nice":false,"zero":false},"axis":null},"y":{"datum":-3.29,"type":"quantitative","scale":{"domain":[-19.313,17.829],"nice":false,"zero":false},"axis":null},"text":{"field":"a"}}},
{"data":{"name":"res"},"transform":[{"filter":{"field":"p","range":[301,350]}},{"filter":"datum.p % 10 == 0 || datum.p == 301"}],"mark":{"type":"text","fontSize":19,"angle":270,"align":"right","baseline":"middle","color":"#000"},"encoding":{"x":{"field":"p","type":"quantitative","scale":{"domain":[299.193,350.6],"nice":false,"zero":false},"axis":null},"y":{"datum":-4.2,"type":"quantitative","scale":{"domain":[-19.313,17.829],"nice":false,"zero":false},"axis":null},"text":{"field":"p","type":"quantitative"}}},
{"data":{"name":"seg"},"transform":[{"filter":"datum.e > 299.193 && datum.s < 350.6"}],"mark":{"type":"rule","strokeWidth":2.5,"color":"#000","clip":true},"encoding":{"x":{"field":"s","type":"quantitative","scale":{"domain":[299.193,350.6],"nice":false,"zero":false},"axis":null},"x2":{"field":"e"},"y":{"datum":-10.29,"type":"quantitative","scale":{"domain":[-19.313,17.829],"nice":false,"zero":false},"axis":null}}},
{"data":{"name":"seg"},"transform":[{"filter":"datum.e > 299.193 && datum.s < 350.6"},{"fold":["s","e"],"as":["side","bx"]}],"mark":{"type":"rule","strokeWidth":2.5,"strokeCap":"square","color":"#000","clip":true},"encoding":{"x":{"field":"bx","type":"quantitative","scale":{"domain":[299.193,350.6],"nice":false,"zero":false},"axis":null},"y":{"datum":-7.14,"type":"quantitative","scale":{"domain":[-19.313,17.829],"nice":false,"zero":false},"axis":null},"y2":{"datum":-10.29}}},
{"data":{"name":"seg"},"transform":[{"filter":{"field":"s","range":[299.193,350.4]}}],"mark":{"type":"text","fontSize":21,"align":"left","baseline":"alphabetic","dx":1,"color":"#000"},"encoding":{"x":{"field":"s","type":"quantitative","scale":{"domain":[299.193,350.6],"nice":false,"zero":false},"axis":null},"y":{"datum":-13.475,"type":"quantitative","scale":{"domain":[-19.313,17.829],"nice":false,"zero":false},"axis":null},"text":{"field":"t"}}}
]},
{"width":1280,"height":281.2,"layer":[
{"data":{"name":"res"},"transform":[{"filter":{"field":"p","range":[351,400]}},{"fold":["H","E","C","H","E","C","H","E","C","H","E","C","H","E","C","H","E","C","H","E","C"],"as":["k","v"]},{"window":[{"op":"row_number","as":"i"}],"groupby":["p","k"]},{"stack":"v","groupby":["p"],"sort":[{"field":"v","order":"ascending"},{"field":"k","order":"ascending"},{"field":"i","order":"ascending"}],"as":["y0","y1"]}],"encoding":{"x":{"field":"p","type":"quantitative","scale":{"domain":[349.193,400.6],"nice":false,"zero":false},"axis":null},"y":{"field":"y0","type":"quantitative","scale":{"domain":[-19.313,17.829],"nice":false,"zero":false},"axis":null},"y2":{"field":"y1"}},"layer":[
{"transform":[{"filter":"datum.k != 'C' || (datum.i > 1 && datum.i < 7)"},{"aggregate":[{"op":"min","field":"y0","as":"b"},{"op":"max","field":"y1","as":"t"}],"groupby":["p","k"]}],"mark":{"type":"bar","width":4,"xOffset":-7},"encoding":{"y":{"field":"b","type":"quantitative","scale":{"domain":[-19.313,17.829],"nice":false,"zero":false},"axis":null},"y2":{"field":"t"},"color":{"field":"k","type":"nominal","scale":{"domain":["H","E","C"],"range":["#ff0000","#00ff00","#787878"]},"legend":null}}},
{"transform":[{"filter":"datum.k == 'H'"},{"aggregate":[{"op":"min","field":"y0","as":"b"},{"op":"max","field":"y1","as":"t"}],"groupby":["p"]}],"mark":{"type":"bar","width":4,"xOffset":7,"color":"#ff0000"},"encoding":{"y":{"field":"b","type":"quantitative","scale":{"domain":[-19.313,17.829],"nice":false,"zero":false},"axis":null},"y2":{"field":"t"}}},
{"transform":[{"filter":"datum.k == 'H' && datum.i == 4"}],"mark":{"type":"bar","width":18,"color":"#ff0000"}},
{"transform":[{"filter":"datum.k == 'H' && (datum.i == 1 || datum.i == 7)"}],"mark":{"type":"bar","width":9,"xOffset":-7,"color":"#ff0000"}},
{"transform":[{"filter":"datum.k == 'H' && (datum.i == 1 || datum.i == 7)"}],"mark":{"type":"bar","width":9,"xOffset":7,"color":"#ff0000"}},
{"transform":[{"filter":"datum.k == 'E' && (datum.i == 1 || datum.i == 7)"}],"mark":{"type":"bar","width":20,"color":"#00ff00"}},
{"transform":[{"filter":"datum.k == 'E' && datum.i == 4"}],"mark":{"type":"bar","width":13,"xOffset":-2.5,"color":"#00ff00"}},
{"transform":[{"filter":"datum.k == 'E' && (datum.i <= 2 || datum.i >= 6)"}],"mark":{"type":"bar","width":3,"xOffset":8.5,"color":"#00ff00"}},
{"transform":[{"filter":"datum.k == 'C' && (datum.i == 1 || datum.i == 7)"}],"mark":{"type":"bar","width":15,"xOffset":0.5,"color":"#787878"}},
{"transform":[{"filter":"datum.k == 'C' && (datum.i == 5 || datum.i == 6)"}],"mark":{"type":"bar","width":3,"xOffset":7.5,"color":"#787878"}}
]},
{"data":{"values":[{}]},"mark":{"type":"rule","strokeWidth":3,"color":"#000"},"encoding":{"y":{"datum":0,"type":"quantitative","scale":{"domain":[-19.313,17.829],"nice":false,"zero":false},"axis":{"values":[7,14],"labelExpr":"datum.value == 7 ? '1' : '2'","title":null}}}},
{"data":{"values":[{}]},"mark":{"type":"rule","strokeWidth":2.5,"color":"#000"},"encoding":{"x":{"datum":349.243,"type":"quantitative","scale":{"domain":[349.193,400.6],"nice":false,"zero":false},"axis":null},"y":{"datum":0,"type":"quantitative","scale":{"domain":[-19.313,17.829],"nice":false,"zero":false},"axis":null},"y2":{"datum":14}}},
{"data":{"name":"res"},"transform":[{"filter":{"field":"p","range":[351,400]}}],"mark":{"type":"text","fontSize":22,"baseline":"alphabetic","color":"#000"},"encoding":{"x":{"field":"p","type":"quantitative","scale":{"domain":[349.193,400.6],"nice":false,"zero":false},"axis":null},"y":{"datum":-3.29,"type":"quantitative","scale":{"domain":[-19.313,17.829],"nice":false,"zero":false},"axis":null},"text":{"field":"a"}}},
{"data":{"name":"res"},"transform":[{"filter":{"field":"p","range":[351,400]}},{"filter":"datum.p % 10 == 0 || datum.p == 351"}],"mark":{"type":"text","fontSize":19,"angle":270,"align":"right","baseline":"middle","color":"#000"},"encoding":{"x":{"field":"p","type":"quantitative","scale":{"domain":[349.193,400.6],"nice":false,"zero":false},"axis":null},"y":{"datum":-4.2,"type":"quantitative","scale":{"domain":[-19.313,17.829],"nice":false,"zero":false},"axis":null},"text":{"field":"p","type":"quantitative"}}},
{"data":{"name":"seg"},"transform":[{"filter":"datum.e > 349.193 && datum.s < 400.6"}],"mark":{"type":"rule","strokeWidth":2.5,"color":"#000","clip":true},"encoding":{"x":{"field":"s","type":"quantitative","scale":{"domain":[349.193,400.6],"nice":false,"zero":false},"axis":null},"x2":{"field":"e"},"y":{"datum":-10.29,"type":"quantitative","scale":{"domain":[-19.313,17.829],"nice":false,"zero":false},"axis":null}}},
{"data":{"name":"seg"},"transform":[{"filter":"datum.e > 349.193 && datum.s < 400.6"},{"fold":["s","e"],"as":["side","bx"]}],"mark":{"type":"rule","strokeWidth":2.5,"strokeCap":"square","color":"#000","clip":true},"encoding":{"x":{"field":"bx","type":"quantitative","scale":{"domain":[349.193,400.6],"nice":false,"zero":false},"axis":null},"y":{"datum":-7.14,"type":"quantitative","scale":{"domain":[-19.313,17.829],"nice":false,"zero":false},"axis":null},"y2":{"datum":-10.29}}},
{"data":{"name":"seg"},"transform":[{"filter":{"field":"s","range":[349.193,400.4]}}],"mark":{"type":"text","fontSize":21,"align":"left","baseline":"alphabetic","dx":1,"color":"#000"},"encoding":{"x":{"field":"s","type":"quantitative","scale":{"domain":[349.193,400.6],"nice":false,"zero":false},"axis":null},"y":{"datum":-13.475,"type":"quantitative","scale":{"domain":[-19.313,17.829],"nice":false,"zero":false},"axis":null},"text":{"field":"t"}}}
]},
{"width":1280,"height":281.2,"layer":[
{"data":{"name":"res"},"transform":[{"filter":{"field":"p","range":[401,450]}},{"fold":["H","E","C","H","E","C","H","E","C","H","E","C","H","E","C","H","E","C","H","E","C"],"as":["k","v"]},{"window":[{"op":"row_number","as":"i"}],"groupby":["p","k"]},{"stack":"v","groupby":["p"],"sort":[{"field":"v","order":"ascending"},{"field":"k","order":"ascending"},{"field":"i","order":"ascending"}],"as":["y0","y1"]}],"encoding":{"x":{"field":"p","type":"quantitative","scale":{"domain":[399.193,450.6],"nice":false,"zero":false},"axis":null},"y":{"field":"y0","type":"quantitative","scale":{"domain":[-19.313,17.829],"nice":false,"zero":false},"axis":null},"y2":{"field":"y1"}},"layer":[
{"transform":[{"filter":"datum.k != 'C' || (datum.i > 1 && datum.i < 7)"},{"aggregate":[{"op":"min","field":"y0","as":"b"},{"op":"max","field":"y1","as":"t"}],"groupby":["p","k"]}],"mark":{"type":"bar","width":4,"xOffset":-7},"encoding":{"y":{"field":"b","type":"quantitative","scale":{"domain":[-19.313,17.829],"nice":false,"zero":false},"axis":null},"y2":{"field":"t"},"color":{"field":"k","type":"nominal","scale":{"domain":["H","E","C"],"range":["#ff0000","#00ff00","#787878"]},"legend":null}}},
{"transform":[{"filter":"datum.k == 'H'"},{"aggregate":[{"op":"min","field":"y0","as":"b"},{"op":"max","field":"y1","as":"t"}],"groupby":["p"]}],"mark":{"type":"bar","width":4,"xOffset":7,"color":"#ff0000"},"encoding":{"y":{"field":"b","type":"quantitative","scale":{"domain":[-19.313,17.829],"nice":false,"zero":false},"axis":null},"y2":{"field":"t"}}},
{"transform":[{"filter":"datum.k == 'H' && datum.i == 4"}],"mark":{"type":"bar","width":18,"color":"#ff0000"}},
{"transform":[{"filter":"datum.k == 'H' && (datum.i == 1 || datum.i == 7)"}],"mark":{"type":"bar","width":9,"xOffset":-7,"color":"#ff0000"}},
{"transform":[{"filter":"datum.k == 'H' && (datum.i == 1 || datum.i == 7)"}],"mark":{"type":"bar","width":9,"xOffset":7,"color":"#ff0000"}},
{"transform":[{"filter":"datum.k == 'E' && (datum.i == 1 || datum.i == 7)"}],"mark":{"type":"bar","width":20,"color":"#00ff00"}},
{"transform":[{"filter":"datum.k == 'E' && datum.i == 4"}],"mark":{"type":"bar","width":13,"xOffset":-2.5,"color":"#00ff00"}},
{"transform":[{"filter":"datum.k == 'E' && (datum.i <= 2 || datum.i >= 6)"}],"mark":{"type":"bar","width":3,"xOffset":8.5,"color":"#00ff00"}},
{"transform":[{"filter":"datum.k == 'C' && (datum.i == 1 || datum.i == 7)"}],"mark":{"type":"bar","width":15,"xOffset":0.5,"color":"#787878"}},
{"transform":[{"filter":"datum.k == 'C' && (datum.i == 5 || datum.i == 6)"}],"mark":{"type":"bar","width":3,"xOffset":7.5,"color":"#787878"}}
]},
{"data":{"values":[{}]},"mark":{"type":"rule","strokeWidth":3,"color":"#000"},"encoding":{"y":{"datum":0,"type":"quantitative","scale":{"domain":[-19.313,17.829],"nice":false,"zero":false},"axis":{"values":[7,14],"labelExpr":"datum.value == 7 ? '1' : '2'","title":null}}}},
{"data":{"values":[{}]},"mark":{"type":"rule","strokeWidth":2.5,"color":"#000"},"encoding":{"x":{"datum":399.243,"type":"quantitative","scale":{"domain":[399.193,450.6],"nice":false,"zero":false},"axis":null},"y":{"datum":0,"type":"quantitative","scale":{"domain":[-19.313,17.829],"nice":false,"zero":false},"axis":null},"y2":{"datum":14}}},
{"data":{"name":"res"},"transform":[{"filter":{"field":"p","range":[401,450]}}],"mark":{"type":"text","fontSize":22,"baseline":"alphabetic","color":"#000"},"encoding":{"x":{"field":"p","type":"quantitative","scale":{"domain":[399.193,450.6],"nice":false,"zero":false},"axis":null},"y":{"datum":-3.29,"type":"quantitative","scale":{"domain":[-19.313,17.829],"nice":false,"zero":false},"axis":null},"text":{"field":"a"}}},
{"data":{"name":"res"},"transform":[{"filter":{"field":"p","range":[401,450]}},{"filter":"datum.p % 10 == 0 || datum.p == 401"}],"mark":{"type":"text","fontSize":19,"angle":270,"align":"right","baseline":"middle","color":"#000"},"encoding":{"x":{"field":"p","type":"quantitative","scale":{"domain":[399.193,450.6],"nice":false,"zero":false},"axis":null},"y":{"datum":-4.2,"type":"quantitative","scale":{"domain":[-19.313,17.829],"nice":false,"zero":false},"axis":null},"text":{"field":"p","type":"quantitative"}}},
{"data":{"name":"seg"},"transform":[{"filter":"datum.e > 399.193 && datum.s < 450.6"}],"mark":{"type":"rule","strokeWidth":2.5,"color":"#000","clip":true},"encoding":{"x":{"field":"s","type":"quantitative","scale":{"domain":[399.193,450.6],"nice":false,"zero":false},"axis":null},"x2":{"field":"e"},"y":{"datum":-10.29,"type":"quantitative","scale":{"domain":[-19.313,17.829],"nice":false,"zero":false},"axis":null}}},
{"data":{"name":"seg"},"transform":[{"filter":"datum.e > 399.193 && datum.s < 450.6"},{"fold":["s","e"],"as":["side","bx"]}],"mark":{"type":"rule","strokeWidth":2.5,"strokeCap":"square","color":"#000","clip":true},"encoding":{"x":{"field":"bx","type":"quantitative","scale":{"domain":[399.193,450.6],"nice":false,"zero":false},"axis":null},"y":{"datum":-7.14,"type":"quantitative","scale":{"domain":[-19.313,17.829],"nice":false,"zero":false},"axis":null},"y2":{"datum":-10.29}}},
{"data":{"name":"seg"},"transform":[{"filter":{"field":"s","range":[399.193,450.4]}}],"mark":{"type":"text","fontSize":21,"align":"left","baseline":"alphabetic","dx":1,"color":"#000"},"encoding":{"x":{"field":"s","type":"quantitative","scale":{"domain":[399.193,450.6],"nice":false,"zero":false},"axis":null},"y":{"datum":-13.475,"type":"quantitative","scale":{"domain":[-19.313,17.829],"nice":false,"zero":false},"axis":null},"text":{"field":"t"}}}
]},
{"width":1280,"height":281.2,"layer":[
{"data":{"name":"res"},"transform":[{"filter":{"field":"p","range":[451,500]}},{"fold":["H","E","C","H","E","C","H","E","C","H","E","C","H","E","C","H","E","C","H","E","C"],"as":["k","v"]},{"window":[{"op":"row_number","as":"i"}],"groupby":["p","k"]},{"stack":"v","groupby":["p"],"sort":[{"field":"v","order":"ascending"},{"field":"k","order":"ascending"},{"field":"i","order":"ascending"}],"as":["y0","y1"]}],"encoding":{"x":{"field":"p","type":"quantitative","scale":{"domain":[449.193,500.6],"nice":false,"zero":false},"axis":null},"y":{"field":"y0","type":"quantitative","scale":{"domain":[-19.313,17.829],"nice":false,"zero":false},"axis":null},"y2":{"field":"y1"}},"layer":[
{"transform":[{"filter":"datum.k != 'C' || (datum.i > 1 && datum.i < 7)"},{"aggregate":[{"op":"min","field":"y0","as":"b"},{"op":"max","field":"y1","as":"t"}],"groupby":["p","k"]}],"mark":{"type":"bar","width":4,"xOffset":-7},"encoding":{"y":{"field":"b","type":"quantitative","scale":{"domain":[-19.313,17.829],"nice":false,"zero":false},"axis":null},"y2":{"field":"t"},"color":{"field":"k","type":"nominal","scale":{"domain":["H","E","C"],"range":["#ff0000","#00ff00","#787878"]},"legend":null}}},
{"transform":[{"filter":"datum.k == 'H'"},{"aggregate":[{"op":"min","field":"y0","as":"b"},{"op":"max","field":"y1","as":"t"}],"groupby":["p"]}],"mark":{"type":"bar","width":4,"xOffset":7,"color":"#ff0000"},"encoding":{"y":{"field":"b","type":"quantitative","scale":{"domain":[-19.313,17.829],"nice":false,"zero":false},"axis":null},"y2":{"field":"t"}}},
{"transform":[{"filter":"datum.k == 'H' && datum.i == 4"}],"mark":{"type":"bar","width":18,"color":"#ff0000"}},
{"transform":[{"filter":"datum.k == 'H' && (datum.i == 1 || datum.i == 7)"}],"mark":{"type":"bar","width":9,"xOffset":-7,"color":"#ff0000"}},
{"transform":[{"filter":"datum.k == 'H' && (datum.i == 1 || datum.i == 7)"}],"mark":{"type":"bar","width":9,"xOffset":7,"color":"#ff0000"}},
{"transform":[{"filter":"datum.k == 'E' && (datum.i == 1 || datum.i == 7)"}],"mark":{"type":"bar","width":20,"color":"#00ff00"}},
{"transform":[{"filter":"datum.k == 'E' && datum.i == 4"}],"mark":{"type":"bar","width":13,"xOffset":-2.5,"color":"#00ff00"}},
{"transform":[{"filter":"datum.k == 'E' && (datum.i <= 2 || datum.i >= 6)"}],"mark":{"type":"bar","width":3,"xOffset":8.5,"color":"#00ff00"}},
{"transform":[{"filter":"datum.k == 'C' && (datum.i == 1 || datum.i == 7)"}],"mark":{"type":"bar","width":15,"xOffset":0.5,"color":"#787878"}},
{"transform":[{"filter":"datum.k == 'C' && (datum.i == 5 || datum.i == 6)"}],"mark":{"type":"bar","width":3,"xOffset":7.5,"color":"#787878"}}
]},
{"data":{"values":[{}]},"mark":{"type":"rule","strokeWidth":3,"color":"#000"},"encoding":{"y":{"datum":0,"type":"quantitative","scale":{"domain":[-19.313,17.829],"nice":false,"zero":false},"axis":{"values":[7,14],"labelExpr":"datum.value == 7 ? '1' : '2'","title":null}}}},
{"data":{"values":[{}]},"mark":{"type":"rule","strokeWidth":2.5,"color":"#000"},"encoding":{"x":{"datum":449.243,"type":"quantitative","scale":{"domain":[449.193,500.6],"nice":false,"zero":false},"axis":null},"y":{"datum":0,"type":"quantitative","scale":{"domain":[-19.313,17.829],"nice":false,"zero":false},"axis":null},"y2":{"datum":14}}},
{"data":{"name":"res"},"transform":[{"filter":{"field":"p","range":[451,500]}}],"mark":{"type":"text","fontSize":22,"baseline":"alphabetic","color":"#000"},"encoding":{"x":{"field":"p","type":"quantitative","scale":{"domain":[449.193,500.6],"nice":false,"zero":false},"axis":null},"y":{"datum":-3.29,"type":"quantitative","scale":{"domain":[-19.313,17.829],"nice":false,"zero":false},"axis":null},"text":{"field":"a"}}},
{"data":{"name":"res"},"transform":[{"filter":{"field":"p","range":[451,500]}},{"filter":"datum.p % 10 == 0 || datum.p == 451"}],"mark":{"type":"text","fontSize":19,"angle":270,"align":"right","baseline":"middle","color":"#000"},"encoding":{"x":{"field":"p","type":"quantitative","scale":{"domain":[449.193,500.6],"nice":false,"zero":false},"axis":null},"y":{"datum":-4.2,"type":"quantitative","scale":{"domain":[-19.313,17.829],"nice":false,"zero":false},"axis":null},"text":{"field":"p","type":"quantitative"}}},
{"data":{"name":"seg"},"transform":[{"filter":"datum.e > 449.193 && datum.s < 500.6"}],"mark":{"type":"rule","strokeWidth":2.5,"color":"#000","clip":true},"encoding":{"x":{"field":"s","type":"quantitative","scale":{"domain":[449.193,500.6],"nice":false,"zero":false},"axis":null},"x2":{"field":"e"},"y":{"datum":-10.29,"type":"quantitative","scale":{"domain":[-19.313,17.829],"nice":false,"zero":false},"axis":null}}},
{"data":{"name":"seg"},"transform":[{"filter":"datum.e > 449.193 && datum.s < 500.6"},{"fold":["s","e"],"as":["side","bx"]}],"mark":{"type":"rule","strokeWidth":2.5,"strokeCap":"square","color":"#000","clip":true},"encoding":{"x":{"field":"bx","type":"quantitative","scale":{"domain":[449.193,500.6],"nice":false,"zero":false},"axis":null},"y":{"datum":-7.14,"type":"quantitative","scale":{"domain":[-19.313,17.829],"nice":false,"zero":false},"axis":null},"y2":{"datum":-10.29}}},
{"data":{"name":"seg"},"transform":[{"filter":{"field":"s","range":[449.193,500.4]}}],"mark":{"type":"text","fontSize":21,"align":"left","baseline":"alphabetic","dx":1,"color":"#000"},"encoding":{"x":{"field":"s","type":"quantitative","scale":{"domain":[449.193,500.6],"nice":false,"zero":false},"axis":null},"y":{"datum":-13.475,"type":"quantitative","scale":{"domain":[-19.313,17.829],"nice":false,"zero":false},"axis":null},"text":{"field":"t"}}}
]},
{"width":1280,"height":281.2,"layer":[
{"data":{"name":"res"},"transform":[{"filter":{"field":"p","range":[501,550]}},{"fold":["H","E","C","H","E","C","H","E","C","H","E","C","H","E","C","H","E","C","H","E","C"],"as":["k","v"]},{"window":[{"op":"row_number","as":"i"}],"groupby":["p","k"]},{"stack":"v","groupby":["p"],"sort":[{"field":"v","order":"ascending"},{"field":"k","order":"ascending"},{"field":"i","order":"ascending"}],"as":["y0","y1"]}],"encoding":{"x":{"field":"p","type":"quantitative","scale":{"domain":[499.193,550.6],"nice":false,"zero":false},"axis":null},"y":{"field":"y0","type":"quantitative","scale":{"domain":[-19.313,17.829],"nice":false,"zero":false},"axis":null},"y2":{"field":"y1"}},"layer":[
{"transform":[{"filter":"datum.k != 'C' || (datum.i > 1 && datum.i < 7)"},{"aggregate":[{"op":"min","field":"y0","as":"b"},{"op":"max","field":"y1","as":"t"}],"groupby":["p","k"]}],"mark":{"type":"bar","width":4,"xOffset":-7},"encoding":{"y":{"field":"b","type":"quantitative","scale":{"domain":[-19.313,17.829],"nice":false,"zero":false},"axis":null},"y2":{"field":"t"},"color":{"field":"k","type":"nominal","scale":{"domain":["H","E","C"],"range":["#ff0000","#00ff00","#787878"]},"legend":null}}},
{"transform":[{"filter":"datum.k == 'H'"},{"aggregate":[{"op":"min","field":"y0","as":"b"},{"op":"max","field":"y1","as":"t"}],"groupby":["p"]}],"mark":{"type":"bar","width":4,"xOffset":7,"color":"#ff0000"},"encoding":{"y":{"field":"b","type":"quantitative","scale":{"domain":[-19.313,17.829],"nice":false,"zero":false},"axis":null},"y2":{"field":"t"}}},
{"transform":[{"filter":"datum.k == 'H' && datum.i == 4"}],"mark":{"type":"bar","width":18,"color":"#ff0000"}},
{"transform":[{"filter":"datum.k == 'H' && (datum.i == 1 || datum.i == 7)"}],"mark":{"type":"bar","width":9,"xOffset":-7,"color":"#ff0000"}},
{"transform":[{"filter":"datum.k == 'H' && (datum.i == 1 || datum.i == 7)"}],"mark":{"type":"bar","width":9,"xOffset":7,"color":"#ff0000"}},
{"transform":[{"filter":"datum.k == 'E' && (datum.i == 1 || datum.i == 7)"}],"mark":{"type":"bar","width":20,"color":"#00ff00"}},
{"transform":[{"filter":"datum.k == 'E' && datum.i == 4"}],"mark":{"type":"bar","width":13,"xOffset":-2.5,"color":"#00ff00"}},
{"transform":[{"filter":"datum.k == 'E' && (datum.i <= 2 || datum.i >= 6)"}],"mark":{"type":"bar","width":3,"xOffset":8.5,"color":"#00ff00"}},
{"transform":[{"filter":"datum.k == 'C' && (datum.i == 1 || datum.i == 7)"}],"mark":{"type":"bar","width":15,"xOffset":0.5,"color":"#787878"}},
{"transform":[{"filter":"datum.k == 'C' && (datum.i == 5 || datum.i == 6)"}],"mark":{"type":"bar","width":3,"xOffset":7.5,"color":"#787878"}}
]},
{"data":{"values":[{}]},"mark":{"type":"rule","strokeWidth":3,"color":"#000"},"encoding":{"y":{"datum":0,"type":"quantitative","scale":{"domain":[-19.313,17.829],"nice":false,"zero":false},"axis":{"values":[7,14],"labelExpr":"datum.value == 7 ? '1' : '2'","title":null}}}},
{"data":{"values":[{}]},"mark":{"type":"rule","strokeWidth":2.5,"color":"#000"},"encoding":{"x":{"datum":499.243,"type":"quantitative","scale":{"domain":[499.193,550.6],"nice":false,"zero":false},"axis":null},"y":{"datum":0,"type":"quantitative","scale":{"domain":[-19.313,17.829],"nice":false,"zero":false},"axis":null},"y2":{"datum":14}}},
{"data":{"name":"res"},"transform":[{"filter":{"field":"p","range":[501,550]}}],"mark":{"type":"text","fontSize":22,"baseline":"alphabetic","color":"#000"},"encoding":{"x":{"field":"p","type":"quantitative","scale":{"domain":[499.193,550.6],"nice":false,"zero":false},"axis":null},"y":{"datum":-3.29,"type":"quantitative","scale":{"domain":[-19.313,17.829],"nice":false,"zero":false},"axis":null},"text":{"field":"a"}}},
{"data":{"name":"res"},"transform":[{"filter":{"field":"p","range":[501,550]}},{"filter":"datum.p % 10 == 0 || datum.p == 501"}],"mark":{"type":"text","fontSize":19,"angle":270,"align":"right","baseline":"middle","color":"#000"},"encoding":{"x":{"field":"p","type":"quantitative","scale":{"domain":[499.193,550.6],"nice":false,"zero":false},"axis":null},"y":{"datum":-4.2,"type":"quantitative","scale":{"domain":[-19.313,17.829],"nice":false,"zero":false},"axis":null},"text":{"field":"p","type":"quantitative"}}},
{"data":{"name":"seg"},"transform":[{"filter":"datum.e > 499.193 && datum.s < 550.6"}],"mark":{"type":"rule","strokeWidth":2.5,"color":"#000","clip":true},"encoding":{"x":{"field":"s","type":"quantitative","scale":{"domain":[499.193,550.6],"nice":false,"zero":false},"axis":null},"x2":{"field":"e"},"y":{"datum":-10.29,"type":"quantitative","scale":{"domain":[-19.313,17.829],"nice":false,"zero":false},"axis":null}}},
{"data":{"name":"seg"},"transform":[{"filter":"datum.e > 499.193 && datum.s < 550.6"},{"fold":["s","e"],"as":["side","bx"]}],"mark":{"type":"rule","strokeWidth":2.5,"strokeCap":"square","color":"#000","clip":true},"encoding":{"x":{"field":"bx","type":"quantitative","scale":{"domain":[499.193,550.6],"nice":false,"zero":false},"axis":null},"y":{"datum":-7.14,"type":"quantitative","scale":{"domain":[-19.313,17.829],"nice":false,"zero":false},"axis":null},"y2":{"datum":-10.29}}},
{"data":{"name":"seg"},"transform":[{"filter":{"field":"s","range":[499.193,550.4]}}],"mark":{"type":"text","fontSize":21,"align":"left","baseline":"alphabetic","dx":1,"color":"#000"},"encoding":{"x":{"field":"s","type":"quantitative","scale":{"domain":[499.193,550.6],"nice":false,"zero":false},"axis":null},"y":{"datum":-13.475,"type":"quantitative","scale":{"domain":[-19.313,17.829],"nice":false,"zero":false},"axis":null},"text":{"field":"t"}}}
]},
{"width":1280,"height":205.8,"layer":[
{"data":{"name":"res"},"transform":[{"filter":{"field":"p","range":[551,600]}},{"fold":["H","E","C","H","E","C","H","E","C","H","E","C","H","E","C","H","E","C","H","E","C"],"as":["k","v"]},{"window":[{"op":"row_number","as":"i"}],"groupby":["p","k"]},{"stack":"v","groupby":["p"],"sort":[{"field":"v","order":"ascending"},{"field":"k","order":"ascending"},{"field":"i","order":"ascending"}],"as":["y0","y1"]}],"encoding":{"x":{"field":"p","type":"quantitative","scale":{"domain":[549.193,600.6],"nice":false,"zero":false},"axis":null},"y":{"field":"y0","type":"quantitative","scale":{"domain":[-9.352,17.829],"nice":false,"zero":false},"axis":null},"y2":{"field":"y1"}},"layer":[
{"transform":[{"filter":"datum.k != 'C' || (datum.i > 1 && datum.i < 7)"},{"aggregate":[{"op":"min","field":"y0","as":"b"},{"op":"max","field":"y1","as":"t"}],"groupby":["p","k"]}],"mark":{"type":"bar","width":4,"xOffset":-7},"encoding":{"y":{"field":"b","type":"quantitative","scale":{"domain":[-9.352,17.829],"nice":false,"zero":false},"axis":null},"y2":{"field":"t"},"color":{"field":"k","type":"nominal","scale":{"domain":["H","E","C"],"range":["#ff0000","#00ff00","#787878"]},"legend":null}}},
{"transform":[{"filter":"datum.k == 'H'"},{"aggregate":[{"op":"min","field":"y0","as":"b"},{"op":"max","field":"y1","as":"t"}],"groupby":["p"]}],"mark":{"type":"bar","width":4,"xOffset":7,"color":"#ff0000"},"encoding":{"y":{"field":"b","type":"quantitative","scale":{"domain":[-9.352,17.829],"nice":false,"zero":false},"axis":null},"y2":{"field":"t"}}},
{"transform":[{"filter":"datum.k == 'H' && datum.i == 4"}],"mark":{"type":"bar","width":18,"color":"#ff0000"}},
{"transform":[{"filter":"datum.k == 'H' && (datum.i == 1 || datum.i == 7)"}],"mark":{"type":"bar","width":9,"xOffset":-7,"color":"#ff0000"}},
{"transform":[{"filter":"datum.k == 'H' && (datum.i == 1 || datum.i == 7)"}],"mark":{"type":"bar","width":9,"xOffset":7,"color":"#ff0000"}},
{"transform":[{"filter":"datum.k == 'E' && (datum.i == 1 || datum.i == 7)"}],"mark":{"type":"bar","width":20,"color":"#00ff00"}},
{"transform":[{"filter":"datum.k == 'E' && datum.i == 4"}],"mark":{"type":"bar","width":13,"xOffset":-2.5,"color":"#00ff00"}},
{"transform":[{"filter":"datum.k == 'E' && (datum.i <= 2 || datum.i >= 6)"}],"mark":{"type":"bar","width":3,"xOffset":8.5,"color":"#00ff00"}},
{"transform":[{"filter":"datum.k == 'C' && (datum.i == 1 || datum.i == 7)"}],"mark":{"type":"bar","width":15,"xOffset":0.5,"color":"#787878"}},
{"transform":[{"filter":"datum.k == 'C' && (datum.i == 5 || datum.i == 6)"}],"mark":{"type":"bar","width":3,"xOffset":7.5,"color":"#787878"}}
]},
{"data":{"values":[{}]},"mark":{"type":"rule","strokeWidth":3,"color":"#000"},"encoding":{"y":{"datum":0,"type":"quantitative","scale":{"domain":[-9.352,17.829],"nice":false,"zero":false},"axis":{"values":[7,14],"labelExpr":"datum.value == 7 ? '1' : '2'","title":null}}}},
{"data":{"values":[{}]},"mark":{"type":"rule","strokeWidth":2.5,"color":"#000"},"encoding":{"x":{"datum":549.243,"type":"quantitative","scale":{"domain":[549.193,600.6],"nice":false,"zero":false},"axis":null},"y":{"datum":0,"type":"quantitative","scale":{"domain":[-9.352,17.829],"nice":false,"zero":false},"axis":null},"y2":{"datum":14}}},
{"data":{"name":"res"},"transform":[{"filter":{"field":"p","range":[551,600]}}],"mark":{"type":"text","fontSize":22,"baseline":"alphabetic","color":"#000"},"encoding":{"x":{"field":"p","type":"quantitative","scale":{"domain":[549.193,600.6],"nice":false,"zero":false},"axis":null},"y":{"datum":-3.29,"type":"quantitative","scale":{"domain":[-9.352,17.829],"nice":false,"zero":false},"axis":null},"text":{"field":"a"}}},
{"data":{"name":"res"},"transform":[{"filter":{"field":"p","range":[551,600]}},{"filter":"datum.p % 10 == 0 || datum.p == 551"}],"mark":{"type":"text","fontSize":19,"angle":270,"align":"right","baseline":"middle","color":"#000"},"encoding":{"x":{"field":"p","type":"quantitative","scale":{"domain":[549.193,600.6],"nice":false,"zero":false},"axis":null},"y":{"datum":-4.2,"type":"quantitative","scale":{"domain":[-9.352,17.829],"nice":false,"zero":false},"axis":null},"text":{"field":"p","type":"quantitative"}}}
]}
]
}
